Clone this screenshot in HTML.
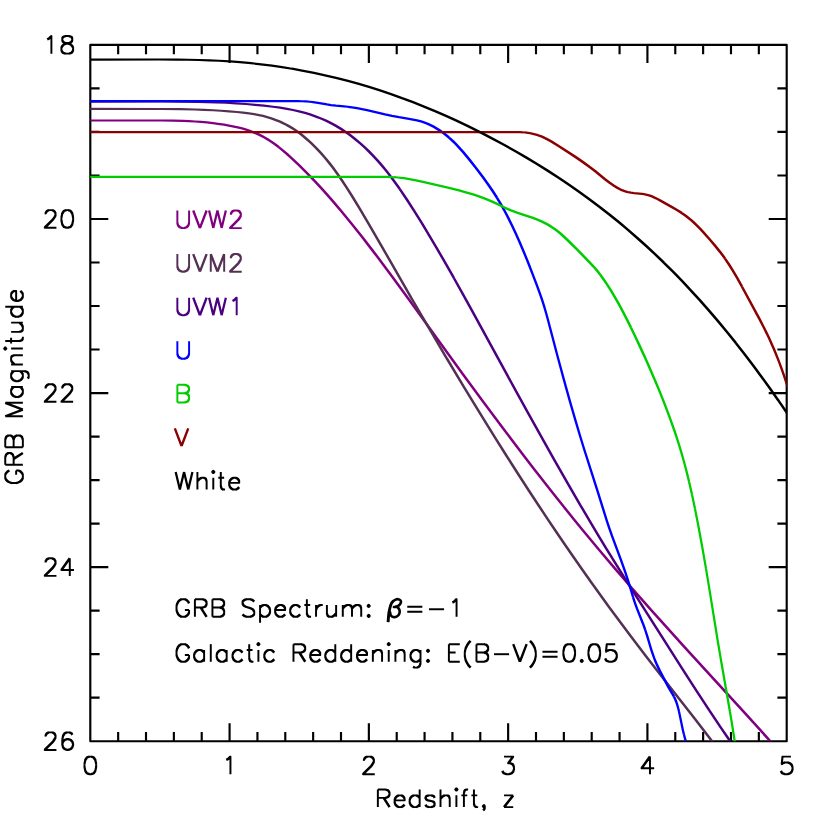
<!DOCTYPE html>
<html><head><meta charset="utf-8"><title>GRB Magnitude vs Redshift</title>
<style>html,body{margin:0;padding:0;background:#fff;font-family:"Liberation Sans",sans-serif;}svg{display:block}</style>
</head><body>
<svg width="830" height="830" viewBox="0 0 830 830">
<rect x="0" y="0" width="830" height="830" fill="#ffffff"/>
<defs><clipPath id="pc"><rect x="90.3" y="44.9" width="696.40" height="696.30"/></clipPath>
<path id="g40" d="M8.31 -21.85L6.64 -20.18L8.45 -18.37L10.12 -20.05ZM6.50 -19.97L4.82 -17.46L6.91 -16.06L8.59 -18.58ZM4.77 -17.31L3.09 -13.96L5.29 -12.86L6.96 -16.21ZM3.11 -13.62L2.27 -9.43L4.43 -9.00L5.27 -13.19ZM2.38 -9.22L2.38 -5.87L4.33 -5.87L4.33 -9.22ZM2.27 -5.65L3.11 -1.46L5.27 -1.89L4.43 -6.08ZM3.09 -1.13L4.77 2.22L6.96 1.13L5.29 -2.22ZM4.82 2.37L6.50 4.89L8.59 3.49L6.91 0.98ZM6.64 5.09L8.31 6.77L10.12 4.96L8.45 3.29ZM8.80 -19.27L8.63 -19.90L8.17 -20.36L7.54 -20.53L6.91 -20.36L6.45 -19.90L6.28 -19.27L6.45 -18.65L6.91 -18.18L7.54 -18.02L8.17 -18.18L8.63 -18.65ZM7.09 -16.76L6.93 -17.37L6.48 -17.82L5.87 -17.98L5.25 -17.82L4.81 -17.37L4.64 -16.76L4.81 -16.15L5.25 -15.70L5.87 -15.54L6.48 -15.70L6.93 -16.15ZM5.29 -13.41L5.15 -13.96L4.74 -14.36L4.19 -14.51L3.64 -14.36L3.23 -13.96L3.09 -13.41L3.23 -12.86L3.64 -12.45L4.19 -12.30L4.74 -12.45L5.15 -12.86ZM4.33 -9.22L4.20 -9.71L3.84 -10.06L3.35 -10.19L2.86 -10.06L2.51 -9.71L2.38 -9.22L2.51 -8.73L2.86 -8.37L3.35 -8.24L3.84 -8.37L4.20 -8.73ZM4.33 -5.87L4.20 -6.35L3.84 -6.71L3.35 -6.84L2.86 -6.71L2.51 -6.35L2.38 -5.87L2.51 -5.38L2.86 -5.02L3.35 -4.89L3.84 -5.02L4.20 -5.38ZM5.29 -1.68L5.15 -2.23L4.74 -2.63L4.19 -2.78L3.64 -2.63L3.23 -2.23L3.09 -1.68L3.23 -1.12L3.64 -0.72L4.19 -0.57L4.74 -0.72L5.15 -1.12ZM7.09 1.68L6.93 1.06L6.48 0.62L5.87 0.45L5.25 0.62L4.81 1.06L4.64 1.68L4.81 2.29L5.25 2.74L5.87 2.90L6.48 2.74L6.93 2.29ZM8.80 4.19L8.63 3.56L8.17 3.10L7.54 2.93L6.91 3.10L6.45 3.56L6.28 4.19L6.45 4.82L6.91 5.28L7.54 5.45L8.17 5.28L8.63 4.82Z"/>
<path id="g41" d="M1.61 -20.05L3.29 -18.37L5.09 -20.18L3.42 -21.85ZM3.14 -18.58L4.82 -16.06L6.91 -17.46L5.24 -19.97ZM4.77 -16.21L6.45 -12.86L8.64 -13.96L6.96 -17.31ZM6.46 -13.19L7.30 -9.00L9.46 -9.43L8.62 -13.62ZM7.40 -9.22L7.40 -5.87L9.35 -5.87L9.35 -9.22ZM7.30 -6.08L6.46 -1.89L8.62 -1.46L9.46 -5.65ZM6.45 -2.22L4.77 1.13L6.96 2.22L8.64 -1.13ZM4.82 0.98L3.14 3.49L5.24 4.89L6.91 2.37ZM3.29 3.29L1.61 4.96L3.42 6.77L5.09 5.09ZM5.45 -19.27L5.28 -19.90L4.82 -20.36L4.19 -20.53L3.56 -20.36L3.10 -19.90L2.93 -19.27L3.10 -18.65L3.56 -18.18L4.19 -18.02L4.82 -18.18L5.28 -18.65ZM7.09 -16.76L6.93 -17.37L6.48 -17.82L5.87 -17.98L5.25 -17.82L4.81 -17.37L4.64 -16.76L4.81 -16.15L5.25 -15.70L5.87 -15.54L6.48 -15.70L6.93 -16.15ZM8.65 -13.41L8.50 -13.96L8.09 -14.36L7.54 -14.51L6.99 -14.36L6.59 -13.96L6.44 -13.41L6.59 -12.86L6.99 -12.45L7.54 -12.30L8.09 -12.45L8.50 -12.86ZM9.35 -9.22L9.22 -9.71L8.87 -10.06L8.38 -10.19L7.89 -10.06L7.54 -9.71L7.40 -9.22L7.54 -8.73L7.89 -8.37L8.38 -8.24L8.87 -8.37L9.22 -8.73ZM9.35 -5.87L9.22 -6.35L8.87 -6.71L8.38 -6.84L7.89 -6.71L7.54 -6.35L7.40 -5.87L7.54 -5.38L7.89 -5.02L8.38 -4.89L8.87 -5.02L9.22 -5.38ZM8.65 -1.68L8.50 -2.23L8.09 -2.63L7.54 -2.78L6.99 -2.63L6.59 -2.23L6.44 -1.68L6.59 -1.12L6.99 -0.72L7.54 -0.57L8.09 -0.72L8.50 -1.12ZM7.09 1.68L6.93 1.06L6.48 0.62L5.87 0.45L5.25 0.62L4.81 1.06L4.64 1.68L4.81 2.29L5.25 2.74L5.87 2.90L6.48 2.74L6.93 2.29ZM5.45 4.19L5.28 3.56L4.82 3.10L4.19 2.93L3.56 3.10L3.10 3.56L2.93 4.19L3.10 4.82L3.56 5.28L4.19 5.45L4.82 5.28L5.28 4.82Z"/>
<path id="g44" d="M4.12 -1.74L3.29 -0.90L5.09 0.90L5.93 0.07ZM5.09 -0.90L4.26 -1.74L2.45 0.07L3.29 0.90ZM4.26 0.07L5.09 -0.77L3.29 -2.58L2.45 -1.74ZM3.29 -0.77L4.12 0.07L5.93 -1.74L5.09 -2.58ZM4.05 -0.84L4.05 0.84L6.00 0.84L6.00 -0.84ZM3.93 0.29L3.09 1.97L5.29 3.06L6.12 1.39ZM3.29 1.61L2.45 2.45L4.26 4.26L5.09 3.42ZM5.47 0.00L5.30 -0.64L4.83 -1.11L4.19 -1.28L3.55 -1.11L3.08 -0.64L2.91 -0.00L3.08 0.64L3.55 1.11L4.19 1.28L4.83 1.11L5.30 0.64ZM4.63 -0.84L4.46 -1.48L3.99 -1.94L3.35 -2.12L2.71 -1.94L2.25 -1.48L2.07 -0.84L2.25 -0.20L2.71 0.27L3.35 0.44L3.99 0.27L4.46 -0.20ZM5.47 -1.68L5.30 -2.31L4.83 -2.78L4.19 -2.95L3.55 -2.78L3.08 -2.31L2.91 -1.68L3.08 -1.04L3.55 -0.57L4.19 -0.40L4.83 -0.57L5.30 -1.04ZM6.00 -0.84L5.87 -1.33L5.52 -1.68L5.03 -1.81L4.54 -1.68L4.18 -1.33L4.05 -0.84L4.18 -0.35L4.54 0.01L5.03 0.14L5.52 0.01L5.87 -0.35ZM6.00 0.84L5.87 0.35L5.52 -0.01L5.03 -0.14L4.54 -0.01L4.18 0.35L4.05 0.84L4.18 1.33L4.54 1.68L5.03 1.81L5.52 1.68L5.87 1.33ZM5.41 2.51L5.25 1.90L4.80 1.45L4.19 1.29L3.58 1.45L3.13 1.90L2.97 2.51L3.13 3.13L3.58 3.57L4.19 3.74L4.80 3.57L5.25 3.13Z"/>
<path id="g45" d="M3.35 -6.57L18.44 -6.57L18.44 -8.52L3.35 -8.52Z"/>
<path id="g46" d="M3.29 -2.58L2.45 -1.74L4.26 0.07L5.09 -0.77ZM2.45 0.07L3.29 0.90L5.09 -0.90L4.26 -1.74ZM5.09 0.90L5.93 0.07L4.12 -1.74L3.29 -0.90ZM5.93 -1.74L5.09 -2.58L3.29 -0.77L4.12 0.07ZM4.63 -0.84L4.46 -1.48L3.99 -1.94L3.35 -2.12L2.71 -1.94L2.25 -1.48L2.07 -0.84L2.25 -0.20L2.71 0.27L3.35 0.44L3.99 0.27L4.46 -0.20ZM5.47 0.00L5.30 -0.64L4.83 -1.11L4.19 -1.28L3.55 -1.11L3.08 -0.64L2.91 -0.00L3.08 0.64L3.55 1.11L4.19 1.28L4.83 1.11L5.30 0.64ZM6.31 -0.84L6.13 -1.48L5.67 -1.94L5.03 -2.12L4.39 -1.94L3.92 -1.48L3.75 -0.84L3.92 -0.20L4.39 0.27L5.03 0.44L5.67 0.27L6.13 -0.20ZM5.47 -1.68L5.30 -2.31L4.83 -2.78L4.19 -2.95L3.55 -2.78L3.08 -2.31L2.91 -1.68L3.08 -1.04L3.55 -0.57L4.19 -0.40L4.83 -0.57L5.30 -1.04Z"/>
<path id="g48" d="M7.17 -18.71L4.66 -17.87L5.40 -15.65L7.91 -16.49ZM3.98 -17.46L2.31 -14.94L4.40 -13.55L6.07 -16.06ZM2.27 -14.46L1.43 -10.27L3.60 -9.84L4.43 -14.03ZM1.54 -10.06L1.54 -7.54L3.49 -7.54L3.49 -10.06ZM1.43 -7.33L2.27 -3.14L4.43 -3.57L3.60 -7.76ZM2.31 -2.65L3.98 -0.14L6.07 -1.54L4.40 -4.05ZM4.66 0.27L7.17 1.11L7.91 -1.11L5.40 -1.95ZM7.54 0.97L9.22 0.97L9.22 -0.97L7.54 -0.97ZM9.59 1.11L12.10 0.27L11.36 -1.95L8.85 -1.11ZM12.78 -0.14L14.45 -2.65L12.36 -4.05L10.69 -1.54ZM14.49 -3.14L15.33 -7.33L13.16 -7.76L12.33 -3.57ZM15.22 -7.54L15.22 -10.06L13.27 -10.06L13.27 -7.54ZM15.33 -10.27L14.49 -14.46L12.33 -14.03L13.16 -9.84ZM14.45 -14.94L12.78 -17.46L10.69 -16.06L12.36 -13.55ZM12.10 -17.87L9.59 -18.71L8.85 -16.49L11.36 -15.65ZM9.22 -18.57L7.54 -18.57L7.54 -16.62L9.22 -16.62ZM6.20 -16.76L6.04 -17.34L5.61 -17.77L5.03 -17.93L4.44 -17.77L4.02 -17.34L3.86 -16.76L4.02 -16.18L4.44 -15.75L5.03 -15.59L5.61 -15.75L6.04 -16.18ZM4.46 -14.25L4.31 -14.80L3.90 -15.20L3.35 -15.35L2.80 -15.20L2.40 -14.80L2.25 -14.25L2.40 -13.69L2.80 -13.29L3.35 -13.14L3.90 -13.29L4.31 -13.69ZM3.49 -10.06L3.36 -10.54L3.00 -10.90L2.51 -11.03L2.03 -10.90L1.67 -10.54L1.54 -10.06L1.67 -9.57L2.03 -9.21L2.51 -9.08L3.00 -9.21L3.36 -9.57ZM3.49 -7.54L3.36 -8.03L3.00 -8.39L2.51 -8.52L2.03 -8.39L1.67 -8.03L1.54 -7.54L1.67 -7.05L2.03 -6.70L2.51 -6.57L3.00 -6.70L3.36 -7.05ZM4.46 -3.35L4.31 -3.90L3.90 -4.31L3.35 -4.46L2.80 -4.31L2.40 -3.90L2.25 -3.35L2.40 -2.80L2.80 -2.40L3.35 -2.25L3.90 -2.40L4.31 -2.80ZM6.20 -0.84L6.04 -1.42L5.61 -1.85L5.03 -2.01L4.44 -1.85L4.02 -1.42L3.86 -0.84L4.02 -0.25L4.44 0.17L5.03 0.33L5.61 0.17L6.04 -0.25ZM8.52 0.00L8.39 -0.49L8.03 -0.84L7.54 -0.97L7.05 -0.84L6.70 -0.49L6.57 -0.00L6.70 0.49L7.05 0.84L7.54 0.97L8.03 0.84L8.39 0.49ZM10.19 0.00L10.06 -0.49L9.71 -0.84L9.22 -0.97L8.73 -0.84L8.37 -0.49L8.24 -0.00L8.37 0.49L8.73 0.84L9.22 0.97L9.71 0.84L10.06 0.49ZM12.90 -0.84L12.74 -1.42L12.32 -1.85L11.73 -2.01L11.15 -1.85L10.72 -1.42L10.56 -0.84L10.72 -0.25L11.15 0.17L11.73 0.33L12.32 0.17L12.74 -0.25ZM14.51 -3.35L14.36 -3.90L13.96 -4.31L13.41 -4.46L12.86 -4.31L12.45 -3.90L12.30 -3.35L12.45 -2.80L12.86 -2.40L13.41 -2.25L13.96 -2.40L14.36 -2.80ZM15.22 -7.54L15.09 -8.03L14.73 -8.39L14.25 -8.52L13.76 -8.39L13.40 -8.03L13.27 -7.54L13.40 -7.05L13.76 -6.70L14.25 -6.57L14.73 -6.70L15.09 -7.05ZM15.22 -10.06L15.09 -10.54L14.73 -10.90L14.25 -11.03L13.76 -10.90L13.40 -10.54L13.27 -10.06L13.40 -9.57L13.76 -9.21L14.25 -9.08L14.73 -9.21L15.09 -9.57ZM14.51 -14.25L14.36 -14.80L13.96 -15.20L13.41 -15.35L12.86 -15.20L12.45 -14.80L12.30 -14.25L12.45 -13.69L12.86 -13.29L13.41 -13.14L13.96 -13.29L14.36 -13.69ZM12.90 -16.76L12.74 -17.34L12.32 -17.77L11.73 -17.93L11.15 -17.77L10.72 -17.34L10.56 -16.76L10.72 -16.18L11.15 -15.75L11.73 -15.59L12.32 -15.75L12.74 -16.18ZM10.19 -17.60L10.06 -18.09L9.71 -18.44L9.22 -18.57L8.73 -18.44L8.37 -18.09L8.24 -17.60L8.37 -17.11L8.73 -16.75L9.22 -16.62L9.71 -16.75L10.06 -17.11ZM8.52 -17.60L8.39 -18.09L8.03 -18.44L7.54 -18.57L7.05 -18.44L6.70 -18.09L6.57 -17.60L6.70 -17.11L7.05 -16.75L7.54 -16.62L8.03 -16.75L8.39 -17.11Z"/>
<path id="g49" d="M5.58 -13.15L7.25 -13.99L6.16 -16.18L4.48 -15.34ZM7.61 -14.18L10.12 -16.69L8.31 -18.50L5.80 -15.99ZM8.24 -17.60L8.24 0.00L10.19 0.00L10.19 -17.60ZM7.93 -15.08L7.76 -15.70L7.32 -16.14L6.70 -16.31L6.09 -16.14L5.64 -15.70L5.48 -15.08L5.64 -14.47L6.09 -14.02L6.70 -13.86L7.32 -14.02L7.76 -14.47ZM10.19 -17.60L10.06 -18.09L9.71 -18.44L9.22 -18.57L8.73 -18.44L8.37 -18.09L8.24 -17.60L8.37 -17.11L8.73 -16.75L9.22 -16.62L9.71 -16.75L10.06 -17.11Z"/>
<path id="g50" d="M4.33 -13.41L4.33 -14.25L2.38 -14.25L2.38 -13.41ZM4.45 -13.70L5.29 -15.37L3.09 -16.47L2.26 -14.79ZM5.09 -15.02L5.93 -15.86L4.12 -17.66L3.29 -16.83ZM5.58 -15.66L7.25 -16.50L6.16 -18.69L4.48 -17.86ZM6.70 -16.62L10.06 -16.62L10.06 -18.57L6.70 -18.57ZM9.51 -16.50L11.18 -15.66L12.28 -17.86L10.60 -18.69ZM10.83 -15.86L11.67 -15.02L13.47 -16.83L12.64 -17.66ZM11.47 -15.37L12.31 -13.70L14.50 -14.79L13.67 -16.47ZM12.43 -14.25L12.43 -12.57L14.38 -12.57L14.38 -14.25ZM12.31 -13.12L11.47 -11.44L13.67 -10.35L14.50 -12.02ZM11.52 -11.59L9.85 -9.08L11.94 -7.68L13.62 -10.20ZM9.99 -9.28L1.61 -0.90L3.42 0.90L11.80 -7.48ZM2.51 0.97L14.25 0.97L14.25 -0.97L2.51 -0.97ZM4.33 -14.25L4.20 -14.73L3.84 -15.09L3.35 -15.22L2.86 -15.09L2.51 -14.73L2.38 -14.25L2.51 -13.76L2.86 -13.40L3.35 -13.27L3.84 -13.40L4.20 -13.76ZM5.41 -15.92L5.25 -16.53L4.80 -16.98L4.19 -17.15L3.58 -16.98L3.13 -16.53L2.97 -15.92L3.13 -15.31L3.58 -14.86L4.19 -14.70L4.80 -14.86L5.25 -15.31ZM6.25 -16.76L6.09 -17.37L5.64 -17.82L5.03 -17.98L4.42 -17.82L3.97 -17.37L3.80 -16.76L3.97 -16.15L4.42 -15.70L5.03 -15.54L5.64 -15.70L6.09 -16.15ZM7.68 -17.60L7.55 -18.09L7.19 -18.44L6.70 -18.57L6.22 -18.44L5.86 -18.09L5.73 -17.60L5.86 -17.11L6.22 -16.75L6.70 -16.62L7.19 -16.75L7.55 -17.11ZM11.03 -17.60L10.90 -18.09L10.54 -18.44L10.06 -18.57L9.57 -18.44L9.21 -18.09L9.08 -17.60L9.21 -17.11L9.57 -16.75L10.06 -16.62L10.54 -16.75L10.90 -17.11ZM12.96 -16.76L12.79 -17.37L12.34 -17.82L11.73 -17.98L11.12 -17.82L10.67 -17.37L10.51 -16.76L10.67 -16.15L11.12 -15.70L11.73 -15.54L12.34 -15.70L12.79 -16.15ZM13.79 -15.92L13.63 -16.53L13.18 -16.98L12.57 -17.15L11.96 -16.98L11.51 -16.53L11.35 -15.92L11.51 -15.31L11.96 -14.86L12.57 -14.70L13.18 -14.86L13.63 -15.31ZM14.38 -14.25L14.25 -14.73L13.90 -15.09L13.41 -15.22L12.92 -15.09L12.56 -14.73L12.43 -14.25L12.56 -13.76L12.92 -13.40L13.41 -13.27L13.90 -13.40L14.25 -13.76ZM14.38 -12.57L14.25 -13.06L13.90 -13.41L13.41 -13.54L12.92 -13.41L12.56 -13.06L12.43 -12.57L12.56 -12.08L12.92 -11.73L13.41 -11.60L13.90 -11.73L14.25 -12.08ZM13.79 -10.89L13.63 -11.51L13.18 -11.95L12.57 -12.12L11.96 -11.95L11.51 -11.51L11.35 -10.89L11.51 -10.28L11.96 -9.83L12.57 -9.67L13.18 -9.83L13.63 -10.28ZM12.15 -8.38L11.98 -9.01L11.52 -9.47L10.89 -9.64L10.27 -9.47L9.80 -9.01L9.64 -8.38L9.80 -7.75L10.27 -7.29L10.89 -7.12L11.52 -7.29L11.98 -7.75ZM3.49 0.00L3.36 -0.49L3.00 -0.84L2.51 -0.97L2.03 -0.84L1.67 -0.49L1.54 -0.00L1.67 0.49L2.03 0.84L2.51 0.97L3.00 0.84L3.36 0.49Z"/>
<path id="g51" d="M4.19 -16.62L13.41 -16.62L13.41 -18.57L4.19 -18.57ZM12.39 -18.36L7.37 -11.65L9.39 -10.13L14.42 -16.84ZM8.38 -9.92L10.89 -9.92L10.89 -11.87L8.38 -11.87ZM10.35 -9.80L12.02 -8.96L13.12 -11.15L11.44 -11.99ZM11.67 -9.15L12.50 -8.31L14.31 -10.12L13.47 -10.96ZM12.30 -8.85L13.14 -6.33L15.35 -7.07L14.52 -9.59ZM13.27 -6.70L13.27 -5.03L15.22 -5.03L15.22 -6.70ZM13.14 -5.40L12.30 -2.88L14.52 -2.14L15.35 -4.66ZM12.50 -3.42L10.83 -1.74L12.64 0.07L14.31 -1.61ZM11.36 -1.95L8.85 -1.11L9.59 1.11L12.10 0.27ZM9.22 -0.97L6.70 -0.97L6.70 0.97L9.22 0.97ZM7.07 -1.11L4.56 -1.95L3.82 0.27L6.33 1.11ZM5.09 -1.74L4.26 -2.58L2.45 -0.77L3.29 0.07ZM4.45 -2.22L3.61 -3.90L1.42 -2.80L2.26 -1.13ZM14.38 -17.60L14.25 -18.09L13.90 -18.44L13.41 -18.57L12.92 -18.44L12.56 -18.09L12.43 -17.60L12.56 -17.11L12.92 -16.75L13.41 -16.62L13.90 -16.75L14.25 -17.11ZM9.35 -10.89L9.22 -11.38L8.87 -11.74L8.38 -11.87L7.89 -11.74L7.54 -11.38L7.40 -10.89L7.54 -10.41L7.89 -10.05L8.38 -9.92L8.87 -10.05L9.22 -10.41ZM11.87 -10.89L11.74 -11.38L11.38 -11.74L10.89 -11.87L10.41 -11.74L10.05 -11.38L9.92 -10.89L10.05 -10.41L10.41 -10.05L10.89 -9.92L11.38 -10.05L11.74 -10.41ZM13.79 -10.06L13.63 -10.67L13.18 -11.12L12.57 -11.28L11.96 -11.12L11.51 -10.67L11.35 -10.06L11.51 -9.44L11.96 -9.00L12.57 -8.83L13.18 -9.00L13.63 -9.44ZM14.58 -9.22L14.42 -9.80L13.99 -10.23L13.41 -10.39L12.82 -10.23L12.40 -9.80L12.24 -9.22L12.40 -8.63L12.82 -8.21L13.41 -8.05L13.99 -8.21L14.42 -8.63ZM15.22 -6.70L15.09 -7.19L14.73 -7.55L14.25 -7.68L13.76 -7.55L13.40 -7.19L13.27 -6.70L13.40 -6.22L13.76 -5.86L14.25 -5.73L14.73 -5.86L15.09 -6.22ZM15.22 -5.03L15.09 -5.52L14.73 -5.87L14.25 -6.00L13.76 -5.87L13.40 -5.52L13.27 -5.03L13.40 -4.54L13.76 -4.18L14.25 -4.05L14.73 -4.18L15.09 -4.54ZM14.58 -2.51L14.42 -3.10L13.99 -3.53L13.41 -3.68L12.82 -3.53L12.40 -3.10L12.24 -2.51L12.40 -1.93L12.82 -1.50L13.41 -1.35L13.99 -1.50L14.42 -1.93ZM12.90 -0.84L12.74 -1.42L12.32 -1.85L11.73 -2.01L11.15 -1.85L10.72 -1.42L10.56 -0.84L10.72 -0.25L11.15 0.17L11.73 0.33L12.32 0.17L12.74 -0.25ZM10.19 0.00L10.06 -0.49L9.71 -0.84L9.22 -0.97L8.73 -0.84L8.37 -0.49L8.24 -0.00L8.37 0.49L8.73 0.84L9.22 0.97L9.71 0.84L10.06 0.49ZM7.68 0.00L7.55 -0.49L7.19 -0.84L6.70 -0.97L6.22 -0.84L5.86 -0.49L5.73 -0.00L5.86 0.49L6.22 0.84L6.70 0.97L7.19 0.84L7.55 0.49ZM5.36 -0.84L5.20 -1.42L4.77 -1.85L4.19 -2.01L3.61 -1.85L3.18 -1.42L3.02 -0.84L3.18 -0.25L3.61 0.17L4.19 0.33L4.77 0.17L5.20 -0.25ZM4.58 -1.68L4.41 -2.29L3.96 -2.74L3.35 -2.90L2.74 -2.74L2.29 -2.29L2.13 -1.68L2.29 -1.06L2.74 -0.62L3.35 -0.45L3.96 -0.62L4.41 -1.06Z"/>
<path id="g52" d="M9.87 -18.33L1.49 -6.60L3.54 -5.13L11.92 -16.86ZM2.51 -4.89L15.08 -4.89L15.08 -6.84L2.51 -6.84ZM3.49 -5.87L3.36 -6.35L3.00 -6.71L2.51 -6.84L2.03 -6.71L1.67 -6.35L1.54 -5.87L1.67 -5.38L2.03 -5.02L2.51 -4.89L3.00 -5.02L3.36 -5.38ZM9.92 -17.60L9.92 0.00L11.87 0.00L11.87 -17.60Z"/>
<path id="g53" d="M12.57 -18.57L4.19 -18.57L4.19 -16.62L12.57 -16.62ZM3.15 -17.71L2.31 -10.17L4.40 -9.94L5.23 -17.48ZM4.26 -9.15L5.09 -9.99L3.29 -11.80L2.45 -10.96ZM4.56 -9.79L7.07 -10.62L6.33 -12.84L3.82 -12.00ZM6.70 -10.76L9.22 -10.76L9.22 -12.71L6.70 -12.71ZM8.85 -10.62L11.36 -9.79L12.10 -12.00L9.59 -12.84ZM10.83 -9.99L12.50 -8.31L14.31 -10.12L12.64 -11.80ZM12.30 -8.85L13.14 -6.33L15.35 -7.07L14.52 -9.59ZM13.27 -6.70L13.27 -5.03L15.22 -5.03L15.22 -6.70ZM13.14 -5.40L12.30 -2.88L14.52 -2.14L15.35 -4.66ZM12.50 -3.42L10.83 -1.74L12.64 0.07L14.31 -1.61ZM11.36 -1.95L8.85 -1.11L9.59 1.11L12.10 0.27ZM9.22 -0.97L6.70 -0.97L6.70 0.97L9.22 0.97ZM7.07 -1.11L4.56 -1.95L3.82 0.27L6.33 1.11ZM5.09 -1.74L4.26 -2.58L2.45 -0.77L3.29 0.07ZM4.45 -2.22L3.61 -3.90L1.42 -2.80L2.26 -1.13ZM5.16 -17.60L5.03 -18.09L4.68 -18.44L4.19 -18.57L3.70 -18.44L3.35 -18.09L3.21 -17.60L3.35 -17.11L3.70 -16.75L4.19 -16.62L4.68 -16.75L5.03 -17.11ZM4.40 -10.06L4.26 -10.58L3.88 -10.97L3.35 -11.11L2.83 -10.97L2.44 -10.58L2.30 -10.06L2.44 -9.53L2.83 -9.15L3.35 -9.00L3.88 -9.15L4.26 -9.53ZM5.36 -10.89L5.20 -11.48L4.77 -11.91L4.19 -12.06L3.61 -11.91L3.18 -11.48L3.02 -10.89L3.18 -10.31L3.61 -9.88L4.19 -9.73L4.77 -9.88L5.20 -10.31ZM7.68 -11.73L7.55 -12.22L7.19 -12.58L6.70 -12.71L6.22 -12.58L5.86 -12.22L5.73 -11.73L5.86 -11.24L6.22 -10.89L6.70 -10.76L7.19 -10.89L7.55 -11.24ZM10.19 -11.73L10.06 -12.22L9.71 -12.58L9.22 -12.71L8.73 -12.58L8.37 -12.22L8.24 -11.73L8.37 -11.24L8.73 -10.89L9.22 -10.76L9.71 -10.89L10.06 -11.24ZM12.90 -10.89L12.74 -11.48L12.32 -11.91L11.73 -12.06L11.15 -11.91L10.72 -11.48L10.56 -10.89L10.72 -10.31L11.15 -9.88L11.73 -9.73L12.32 -9.88L12.74 -10.31ZM14.58 -9.22L14.42 -9.80L13.99 -10.23L13.41 -10.39L12.82 -10.23L12.40 -9.80L12.24 -9.22L12.40 -8.63L12.82 -8.21L13.41 -8.05L13.99 -8.21L14.42 -8.63ZM15.22 -6.70L15.09 -7.19L14.73 -7.55L14.25 -7.68L13.76 -7.55L13.40 -7.19L13.27 -6.70L13.40 -6.22L13.76 -5.86L14.25 -5.73L14.73 -5.86L15.09 -6.22ZM15.22 -5.03L15.09 -5.52L14.73 -5.87L14.25 -6.00L13.76 -5.87L13.40 -5.52L13.27 -5.03L13.40 -4.54L13.76 -4.18L14.25 -4.05L14.73 -4.18L15.09 -4.54ZM14.58 -2.51L14.42 -3.10L13.99 -3.53L13.41 -3.68L12.82 -3.53L12.40 -3.10L12.24 -2.51L12.40 -1.93L12.82 -1.50L13.41 -1.35L13.99 -1.50L14.42 -1.93ZM12.90 -0.84L12.74 -1.42L12.32 -1.85L11.73 -2.01L11.15 -1.85L10.72 -1.42L10.56 -0.84L10.72 -0.25L11.15 0.17L11.73 0.33L12.32 0.17L12.74 -0.25ZM10.19 0.00L10.06 -0.49L9.71 -0.84L9.22 -0.97L8.73 -0.84L8.37 -0.49L8.24 -0.00L8.37 0.49L8.73 0.84L9.22 0.97L9.71 0.84L10.06 0.49ZM7.68 0.00L7.55 -0.49L7.19 -0.84L6.70 -0.97L6.22 -0.84L5.86 -0.49L5.73 -0.00L5.86 0.49L6.22 0.84L6.70 0.97L7.19 0.84L7.55 0.49ZM5.36 -0.84L5.20 -1.42L4.77 -1.85L4.19 -2.01L3.61 -1.85L3.18 -1.42L3.02 -0.84L3.18 -0.25L3.61 0.17L4.19 0.33L4.77 0.17L5.20 -0.25ZM4.58 -1.68L4.41 -2.29L3.96 -2.74L3.35 -2.90L2.74 -2.74L2.29 -2.29L2.13 -1.68L2.29 -1.06L2.74 -0.62L3.35 -0.45L3.96 -0.62L4.41 -1.06Z"/>
<path id="g54" d="M14.50 -15.63L13.67 -17.31L11.47 -16.21L12.31 -14.54ZM12.94 -17.87L10.43 -18.71L9.69 -16.49L12.20 -15.65ZM10.06 -18.57L8.38 -18.57L8.38 -16.62L10.06 -16.62ZM8.01 -18.71L5.50 -17.87L6.24 -15.65L8.75 -16.49ZM4.82 -17.46L3.14 -14.94L5.24 -13.55L6.91 -16.06ZM3.11 -14.46L2.27 -10.27L4.43 -9.84L5.27 -14.03ZM2.38 -10.06L2.38 -5.87L4.33 -5.87L4.33 -10.06ZM2.26 -5.59L3.09 -2.24L5.29 -2.79L4.45 -6.14ZM3.29 -1.61L4.96 0.07L6.77 -1.74L5.09 -3.42ZM5.50 0.27L8.01 1.11L8.75 -1.11L6.24 -1.95ZM8.38 0.97L9.22 0.97L9.22 -0.97L8.38 -0.97ZM9.59 1.11L12.10 0.27L11.36 -1.95L8.85 -1.11ZM12.64 0.07L14.31 -1.61L12.50 -3.42L10.83 -1.74ZM14.52 -2.14L15.35 -4.66L13.14 -5.40L12.30 -2.88ZM15.22 -5.03L15.22 -5.87L13.27 -5.87L13.27 -5.03ZM15.35 -6.24L14.52 -8.75L12.30 -8.01L13.14 -5.50ZM14.31 -9.28L12.64 -10.96L10.83 -9.15L12.50 -7.48ZM12.10 -11.16L9.59 -12.00L8.85 -9.79L11.36 -8.95ZM9.22 -11.87L8.38 -11.87L8.38 -9.92L9.22 -9.92ZM8.01 -12.00L5.50 -11.16L6.24 -8.95L8.75 -9.79ZM4.96 -10.96L3.29 -9.28L5.09 -7.48L6.77 -9.15ZM3.08 -8.75L2.24 -6.24L4.46 -5.50L5.30 -8.01ZM13.74 -16.76L13.58 -17.34L13.15 -17.77L12.57 -17.93L11.99 -17.77L11.56 -17.34L11.40 -16.76L11.56 -16.18L11.99 -15.75L12.57 -15.59L13.15 -15.75L13.58 -16.18ZM11.03 -17.60L10.90 -18.09L10.54 -18.44L10.06 -18.57L9.57 -18.44L9.21 -18.09L9.08 -17.60L9.21 -17.11L9.57 -16.75L10.06 -16.62L10.54 -16.75L10.90 -17.11ZM9.35 -17.60L9.22 -18.09L8.87 -18.44L8.38 -18.57L7.89 -18.44L7.54 -18.09L7.40 -17.60L7.54 -17.11L7.89 -16.75L8.38 -16.62L8.87 -16.75L9.22 -17.11ZM7.03 -16.76L6.88 -17.34L6.45 -17.77L5.87 -17.93L5.28 -17.77L4.85 -17.34L4.70 -16.76L4.85 -16.18L5.28 -15.75L5.87 -15.59L6.45 -15.75L6.88 -16.18ZM5.29 -14.25L5.15 -14.80L4.74 -15.20L4.19 -15.35L3.64 -15.20L3.23 -14.80L3.09 -14.25L3.23 -13.69L3.64 -13.29L4.19 -13.14L4.74 -13.29L5.15 -13.69ZM4.33 -10.06L4.20 -10.54L3.84 -10.90L3.35 -11.03L2.86 -10.90L2.51 -10.54L2.38 -10.06L2.51 -9.57L2.86 -9.21L3.35 -9.08L3.84 -9.21L4.20 -9.57ZM4.33 -5.87L4.20 -6.35L3.84 -6.71L3.35 -6.84L2.86 -6.71L2.51 -6.35L2.38 -5.87L2.51 -5.38L2.86 -5.02L3.35 -4.89L3.84 -5.02L4.20 -5.38ZM5.32 -2.51L5.17 -3.08L4.76 -3.49L4.19 -3.64L3.62 -3.49L3.21 -3.08L3.06 -2.51L3.21 -1.95L3.62 -1.53L4.19 -1.38L4.76 -1.53L5.17 -1.95ZM7.03 -0.84L6.88 -1.42L6.45 -1.85L5.87 -2.01L5.28 -1.85L4.85 -1.42L4.70 -0.84L4.85 -0.25L5.28 0.17L5.87 0.33L6.45 0.17L6.88 -0.25ZM9.35 0.00L9.22 -0.49L8.87 -0.84L8.38 -0.97L7.89 -0.84L7.54 -0.49L7.40 -0.00L7.54 0.49L7.89 0.84L8.38 0.97L8.87 0.84L9.22 0.49ZM10.19 0.00L10.06 -0.49L9.71 -0.84L9.22 -0.97L8.73 -0.84L8.37 -0.49L8.24 -0.00L8.37 0.49L8.73 0.84L9.22 0.97L9.71 0.84L10.06 0.49ZM12.90 -0.84L12.74 -1.42L12.32 -1.85L11.73 -2.01L11.15 -1.85L10.72 -1.42L10.56 -0.84L10.72 -0.25L11.15 0.17L11.73 0.33L12.32 0.17L12.74 -0.25ZM14.58 -2.51L14.42 -3.10L13.99 -3.53L13.41 -3.68L12.82 -3.53L12.40 -3.10L12.24 -2.51L12.40 -1.93L12.82 -1.50L13.41 -1.35L13.99 -1.50L14.42 -1.93ZM15.22 -5.03L15.09 -5.52L14.73 -5.87L14.25 -6.00L13.76 -5.87L13.40 -5.52L13.27 -5.03L13.40 -4.54L13.76 -4.18L14.25 -4.05L14.73 -4.18L15.09 -4.54ZM15.22 -5.87L15.09 -6.35L14.73 -6.71L14.25 -6.84L13.76 -6.71L13.40 -6.35L13.27 -5.87L13.40 -5.38L13.76 -5.02L14.25 -4.89L14.73 -5.02L15.09 -5.38ZM14.58 -8.38L14.42 -8.96L13.99 -9.39L13.41 -9.55L12.82 -9.39L12.40 -8.96L12.24 -8.38L12.40 -7.80L12.82 -7.37L13.41 -7.21L13.99 -7.37L14.42 -7.80ZM12.90 -10.06L12.74 -10.64L12.32 -11.07L11.73 -11.22L11.15 -11.07L10.72 -10.64L10.56 -10.06L10.72 -9.47L11.15 -9.04L11.73 -8.89L12.32 -9.04L12.74 -9.47ZM10.19 -10.89L10.06 -11.38L9.71 -11.74L9.22 -11.87L8.73 -11.74L8.37 -11.38L8.24 -10.89L8.37 -10.41L8.73 -10.05L9.22 -9.92L9.71 -10.05L10.06 -10.41ZM9.35 -10.89L9.22 -11.38L8.87 -11.74L8.38 -11.87L7.89 -11.74L7.54 -11.38L7.40 -10.89L7.54 -10.41L7.89 -10.05L8.38 -9.92L8.87 -10.05L9.22 -10.41ZM7.03 -10.06L6.88 -10.64L6.45 -11.07L5.87 -11.22L5.28 -11.07L4.85 -10.64L4.70 -10.06L4.85 -9.47L5.28 -9.04L5.87 -8.89L6.45 -9.04L6.88 -9.47ZM5.36 -8.38L5.20 -8.96L4.77 -9.39L4.19 -9.55L3.61 -9.39L3.18 -8.96L3.02 -8.38L3.18 -7.80L3.61 -7.37L4.19 -7.21L4.77 -7.37L5.20 -7.80Z"/>
<path id="g56" d="M6.33 -18.71L3.82 -17.87L4.56 -15.65L7.07 -16.49ZM3.09 -17.31L2.26 -15.63L4.45 -14.54L5.29 -16.21ZM2.38 -15.08L2.38 -13.41L4.33 -13.41L4.33 -15.08ZM2.26 -12.86L3.09 -11.18L5.29 -12.28L4.45 -13.96ZM3.64 -10.64L5.32 -9.80L6.41 -11.99L4.74 -12.83ZM5.59 -9.80L8.94 -8.96L9.49 -11.15L6.14 -11.99ZM8.85 -8.95L11.36 -8.11L12.10 -10.33L9.59 -11.16ZM10.83 -8.31L12.50 -6.64L14.31 -8.45L12.64 -10.12ZM12.31 -6.99L13.15 -5.32L15.34 -6.41L14.50 -8.09ZM13.27 -5.87L13.27 -3.35L15.22 -3.35L15.22 -5.87ZM13.15 -3.90L12.31 -2.22L14.50 -1.13L15.34 -2.80ZM12.50 -2.58L11.67 -1.74L13.47 0.07L14.31 -0.77ZM12.20 -1.95L9.69 -1.11L10.43 1.11L12.94 0.27ZM10.06 -0.97L6.70 -0.97L6.70 0.97L10.06 0.97ZM7.07 -1.11L4.56 -1.95L3.82 0.27L6.33 1.11ZM5.09 -1.74L4.26 -2.58L2.45 -0.77L3.29 0.07ZM4.45 -2.22L3.61 -3.90L1.42 -2.80L2.26 -1.13ZM3.49 -3.35L3.49 -5.87L1.54 -5.87L1.54 -3.35ZM3.61 -5.32L4.45 -6.99L2.26 -8.09L1.42 -6.41ZM4.26 -6.64L5.93 -8.31L4.12 -10.12L2.45 -8.45ZM5.40 -8.11L7.91 -8.95L7.17 -11.16L4.66 -10.33ZM7.82 -8.96L11.17 -9.80L10.62 -11.99L7.27 -11.15ZM11.44 -9.80L13.12 -10.64L12.02 -12.83L10.35 -11.99ZM13.67 -11.18L14.50 -12.86L12.31 -13.96L11.47 -12.28ZM14.38 -13.41L14.38 -15.08L12.43 -15.08L12.43 -13.41ZM14.50 -15.63L13.67 -17.31L11.47 -16.21L12.31 -14.54ZM12.94 -17.87L10.43 -18.71L9.69 -16.49L12.20 -15.65ZM10.06 -18.57L6.70 -18.57L6.70 -16.62L10.06 -16.62ZM5.36 -16.76L5.20 -17.34L4.77 -17.77L4.19 -17.93L3.61 -17.77L3.18 -17.34L3.02 -16.76L3.18 -16.18L3.61 -15.75L4.19 -15.59L4.77 -15.75L5.20 -16.18ZM4.33 -15.08L4.20 -15.57L3.84 -15.93L3.35 -16.06L2.86 -15.93L2.51 -15.57L2.38 -15.08L2.51 -14.60L2.86 -14.24L3.35 -14.11L3.84 -14.24L4.20 -14.60ZM4.33 -13.41L4.20 -13.90L3.84 -14.25L3.35 -14.38L2.86 -14.25L2.51 -13.90L2.38 -13.41L2.51 -12.92L2.86 -12.56L3.35 -12.43L3.84 -12.56L4.20 -12.92ZM5.41 -11.73L5.25 -12.34L4.80 -12.79L4.19 -12.96L3.58 -12.79L3.13 -12.34L2.97 -11.73L3.13 -11.12L3.58 -10.67L4.19 -10.51L4.80 -10.67L5.25 -11.12ZM7.00 -10.89L6.85 -11.46L6.43 -11.87L5.87 -12.02L5.30 -11.87L4.89 -11.46L4.74 -10.89L4.89 -10.33L5.30 -9.91L5.87 -9.76L6.43 -9.91L6.85 -10.33ZM10.35 -10.06L10.20 -10.62L9.78 -11.04L9.22 -11.19L8.65 -11.04L8.24 -10.62L8.09 -10.06L8.24 -9.49L8.65 -9.08L9.22 -8.93L9.78 -9.08L10.20 -9.49ZM12.90 -9.22L12.74 -9.80L12.32 -10.23L11.73 -10.39L11.15 -10.23L10.72 -9.80L10.56 -9.22L10.72 -8.63L11.15 -8.21L11.73 -8.05L12.32 -8.21L12.74 -8.63ZM14.63 -7.54L14.47 -8.15L14.02 -8.60L13.41 -8.77L12.80 -8.60L12.35 -8.15L12.18 -7.54L12.35 -6.93L12.80 -6.48L13.41 -6.32L14.02 -6.48L14.47 -6.93ZM15.22 -5.87L15.09 -6.35L14.73 -6.71L14.25 -6.84L13.76 -6.71L13.40 -6.35L13.27 -5.87L13.40 -5.38L13.76 -5.02L14.25 -4.89L14.73 -5.02L15.09 -5.38ZM15.22 -3.35L15.09 -3.84L14.73 -4.20L14.25 -4.33L13.76 -4.20L13.40 -3.84L13.27 -3.35L13.40 -2.86L13.76 -2.51L14.25 -2.38L14.73 -2.51L15.09 -2.86ZM14.63 -1.68L14.47 -2.29L14.02 -2.74L13.41 -2.90L12.80 -2.74L12.35 -2.29L12.18 -1.68L12.35 -1.06L12.80 -0.62L13.41 -0.45L14.02 -0.62L14.47 -1.06ZM13.74 -0.84L13.58 -1.42L13.15 -1.85L12.57 -2.01L11.99 -1.85L11.56 -1.42L11.40 -0.84L11.56 -0.25L11.99 0.17L12.57 0.33L13.15 0.17L13.58 -0.25ZM11.03 0.00L10.90 -0.49L10.54 -0.84L10.06 -0.97L9.57 -0.84L9.21 -0.49L9.08 -0.00L9.21 0.49L9.57 0.84L10.06 0.97L10.54 0.84L10.90 0.49ZM7.68 0.00L7.55 -0.49L7.19 -0.84L6.70 -0.97L6.22 -0.84L5.86 -0.49L5.73 -0.00L5.86 0.49L6.22 0.84L6.70 0.97L7.19 0.84L7.55 0.49ZM5.36 -0.84L5.20 -1.42L4.77 -1.85L4.19 -2.01L3.61 -1.85L3.18 -1.42L3.02 -0.84L3.18 -0.25L3.61 0.17L4.19 0.33L4.77 0.17L5.20 -0.25ZM4.58 -1.68L4.41 -2.29L3.96 -2.74L3.35 -2.90L2.74 -2.74L2.29 -2.29L2.13 -1.68L2.29 -1.06L2.74 -0.62L3.35 -0.45L3.96 -0.62L4.41 -1.06ZM3.49 -3.35L3.36 -3.84L3.00 -4.20L2.51 -4.33L2.03 -4.20L1.67 -3.84L1.54 -3.35L1.67 -2.86L2.03 -2.51L2.51 -2.38L3.00 -2.51L3.36 -2.86ZM3.49 -5.87L3.36 -6.35L3.00 -6.71L2.51 -6.84L2.03 -6.71L1.67 -6.35L1.54 -5.87L1.67 -5.38L2.03 -5.02L2.51 -4.89L3.00 -5.02L3.36 -5.38ZM4.58 -7.54L4.41 -8.15L3.96 -8.60L3.35 -8.77L2.74 -8.60L2.29 -8.15L2.13 -7.54L2.29 -6.93L2.74 -6.48L3.35 -6.32L3.96 -6.48L4.41 -6.93ZM6.20 -9.22L6.04 -9.80L5.61 -10.23L5.03 -10.39L4.44 -10.23L4.02 -9.80L3.86 -9.22L4.02 -8.63L4.44 -8.21L5.03 -8.05L5.61 -8.21L6.04 -8.63ZM8.67 -10.06L8.52 -10.62L8.11 -11.04L7.54 -11.19L6.98 -11.04L6.56 -10.62L6.41 -10.06L6.56 -9.49L6.98 -9.08L7.54 -8.93L8.11 -9.08L8.52 -9.49ZM12.02 -10.89L11.87 -11.46L11.46 -11.87L10.89 -12.02L10.33 -11.87L9.91 -11.46L9.76 -10.89L9.91 -10.33L10.33 -9.91L10.89 -9.76L11.46 -9.91L11.87 -10.33ZM13.79 -11.73L13.63 -12.34L13.18 -12.79L12.57 -12.96L11.96 -12.79L11.51 -12.34L11.35 -11.73L11.51 -11.12L11.96 -10.67L12.57 -10.51L13.18 -10.67L13.63 -11.12ZM14.38 -13.41L14.25 -13.90L13.90 -14.25L13.41 -14.38L12.92 -14.25L12.56 -13.90L12.43 -13.41L12.56 -12.92L12.92 -12.56L13.41 -12.43L13.90 -12.56L14.25 -12.92ZM14.38 -15.08L14.25 -15.57L13.90 -15.93L13.41 -16.06L12.92 -15.93L12.56 -15.57L12.43 -15.08L12.56 -14.60L12.92 -14.24L13.41 -14.11L13.90 -14.24L14.25 -14.60ZM13.74 -16.76L13.58 -17.34L13.15 -17.77L12.57 -17.93L11.99 -17.77L11.56 -17.34L11.40 -16.76L11.56 -16.18L11.99 -15.75L12.57 -15.59L13.15 -15.75L13.58 -16.18ZM11.03 -17.60L10.90 -18.09L10.54 -18.44L10.06 -18.57L9.57 -18.44L9.21 -18.09L9.08 -17.60L9.21 -17.11L9.57 -16.75L10.06 -16.62L10.54 -16.75L10.90 -17.11ZM7.68 -17.60L7.55 -18.09L7.19 -18.44L6.70 -18.57L6.22 -18.44L5.86 -18.09L5.73 -17.60L5.86 -17.11L6.22 -16.75L6.70 -16.62L7.19 -16.75L7.55 -17.11Z"/>
<path id="g58" d="M3.29 -12.64L2.45 -11.80L4.26 -9.99L5.09 -10.83ZM2.45 -9.99L3.29 -9.15L5.09 -10.96L4.26 -11.80ZM5.09 -9.15L5.93 -9.99L4.12 -11.80L3.29 -10.96ZM5.93 -11.80L5.09 -12.64L3.29 -10.83L4.12 -9.99ZM4.63 -10.89L4.46 -11.53L3.99 -12.00L3.35 -12.17L2.71 -12.00L2.25 -11.53L2.07 -10.89L2.25 -10.26L2.71 -9.79L3.35 -9.62L3.99 -9.79L4.46 -10.26ZM5.47 -10.06L5.30 -10.69L4.83 -11.16L4.19 -11.33L3.55 -11.16L3.08 -10.69L2.91 -10.06L3.08 -9.42L3.55 -8.95L4.19 -8.78L4.83 -8.95L5.30 -9.42ZM6.31 -10.89L6.13 -11.53L5.67 -12.00L5.03 -12.17L4.39 -12.00L3.92 -11.53L3.75 -10.89L3.92 -10.26L4.39 -9.79L5.03 -9.62L5.67 -9.79L6.13 -10.26ZM5.47 -11.73L5.30 -12.37L4.83 -12.84L4.19 -13.01L3.55 -12.84L3.08 -12.37L2.91 -11.73L3.08 -11.09L3.55 -10.63L4.19 -10.45L4.83 -10.63L5.30 -11.09ZM3.29 -2.58L2.45 -1.74L4.26 0.07L5.09 -0.77ZM2.45 0.07L3.29 0.90L5.09 -0.90L4.26 -1.74ZM5.09 0.90L5.93 0.07L4.12 -1.74L3.29 -0.90ZM5.93 -1.74L5.09 -2.58L3.29 -0.77L4.12 0.07ZM4.63 -0.84L4.46 -1.48L3.99 -1.94L3.35 -2.12L2.71 -1.94L2.25 -1.48L2.07 -0.84L2.25 -0.20L2.71 0.27L3.35 0.44L3.99 0.27L4.46 -0.20ZM5.47 0.00L5.30 -0.64L4.83 -1.11L4.19 -1.28L3.55 -1.11L3.08 -0.64L2.91 -0.00L3.08 0.64L3.55 1.11L4.19 1.28L4.83 1.11L5.30 0.64ZM6.31 -0.84L6.13 -1.48L5.67 -1.94L5.03 -2.12L4.39 -1.94L3.92 -1.48L3.75 -0.84L3.92 -0.20L4.39 0.27L5.03 0.44L5.67 0.27L6.13 -0.20ZM5.47 -1.68L5.30 -2.31L4.83 -2.78L4.19 -2.95L3.55 -2.78L3.08 -2.31L2.91 -1.68L3.08 -1.04L3.55 -0.57L4.19 -0.40L4.83 -0.57L5.30 -1.04Z"/>
<path id="g61" d="M3.35 -9.08L18.44 -9.08L18.44 -11.03L3.35 -11.03ZM3.35 -4.05L18.44 -4.05L18.44 -6.00L3.35 -6.00Z"/>
<path id="g66" d="M2.38 -17.60L2.38 0.00L4.33 0.00L4.33 -17.60ZM3.35 -16.62L10.89 -16.62L10.89 -18.57L3.35 -18.57ZM10.52 -16.49L13.04 -15.65L13.78 -17.87L11.26 -18.71ZM12.50 -15.86L13.34 -15.02L15.15 -16.83L14.31 -17.66ZM13.15 -15.37L13.99 -13.70L16.18 -14.79L15.34 -16.47ZM14.11 -14.25L14.11 -12.57L16.06 -12.57L16.06 -14.25ZM13.99 -13.12L13.15 -11.44L15.34 -10.35L16.18 -12.02ZM13.34 -11.80L12.50 -10.96L14.31 -9.15L15.15 -9.99ZM13.04 -11.16L10.52 -10.33L11.26 -8.11L13.78 -8.95ZM11.87 -17.60L11.74 -18.09L11.38 -18.44L10.89 -18.57L10.41 -18.44L10.05 -18.09L9.92 -17.60L10.05 -17.11L10.41 -16.75L10.89 -16.62L11.38 -16.75L11.74 -17.11ZM14.58 -16.76L14.42 -17.34L13.99 -17.77L13.41 -17.93L12.82 -17.77L12.40 -17.34L12.24 -16.76L12.40 -16.18L12.82 -15.75L13.41 -15.59L13.99 -15.75L14.42 -16.18ZM15.47 -15.92L15.31 -16.53L14.86 -16.98L14.25 -17.15L13.63 -16.98L13.19 -16.53L13.02 -15.92L13.19 -15.31L13.63 -14.86L14.25 -14.70L14.86 -14.86L15.31 -15.31ZM16.06 -14.25L15.93 -14.73L15.57 -15.09L15.08 -15.22L14.60 -15.09L14.24 -14.73L14.11 -14.25L14.24 -13.76L14.60 -13.40L15.08 -13.27L15.57 -13.40L15.93 -13.76ZM16.06 -12.57L15.93 -13.06L15.57 -13.41L15.08 -13.54L14.60 -13.41L14.24 -13.06L14.11 -12.57L14.24 -12.08L14.60 -11.73L15.08 -11.60L15.57 -11.73L15.93 -12.08ZM15.47 -10.89L15.31 -11.51L14.86 -11.95L14.25 -12.12L13.63 -11.95L13.19 -11.51L13.02 -10.89L13.19 -10.28L13.63 -9.83L14.25 -9.67L14.86 -9.83L15.31 -10.28ZM14.58 -10.06L14.42 -10.64L13.99 -11.07L13.41 -11.22L12.82 -11.07L12.40 -10.64L12.24 -10.06L12.40 -9.47L12.82 -9.04L13.41 -8.89L13.99 -9.04L14.42 -9.47ZM3.35 -8.24L10.89 -8.24L10.89 -10.19L3.35 -10.19ZM10.52 -8.11L13.04 -7.27L13.78 -9.49L11.26 -10.33ZM12.50 -7.48L13.34 -6.64L15.15 -8.45L14.31 -9.28ZM13.15 -6.99L13.99 -5.32L16.18 -6.41L15.34 -8.09ZM14.11 -5.87L14.11 -3.35L16.06 -3.35L16.06 -5.87ZM13.99 -3.90L13.15 -2.22L15.34 -1.13L16.18 -2.80ZM13.34 -2.58L12.50 -1.74L14.31 0.07L15.15 -0.77ZM13.04 -1.95L10.52 -1.11L11.26 1.11L13.78 0.27ZM10.89 -0.97L3.35 -0.97L3.35 0.97L10.89 0.97ZM11.87 -9.22L11.74 -9.71L11.38 -10.06L10.89 -10.19L10.41 -10.06L10.05 -9.71L9.92 -9.22L10.05 -8.73L10.41 -8.37L10.89 -8.24L11.38 -8.37L11.74 -8.73ZM14.58 -8.38L14.42 -8.96L13.99 -9.39L13.41 -9.55L12.82 -9.39L12.40 -8.96L12.24 -8.38L12.40 -7.80L12.82 -7.37L13.41 -7.21L13.99 -7.37L14.42 -7.80ZM15.47 -7.54L15.31 -8.15L14.86 -8.60L14.25 -8.77L13.63 -8.60L13.19 -8.15L13.02 -7.54L13.19 -6.93L13.63 -6.48L14.25 -6.32L14.86 -6.48L15.31 -6.93ZM16.06 -5.87L15.93 -6.35L15.57 -6.71L15.08 -6.84L14.60 -6.71L14.24 -6.35L14.11 -5.87L14.24 -5.38L14.60 -5.02L15.08 -4.89L15.57 -5.02L15.93 -5.38ZM16.06 -3.35L15.93 -3.84L15.57 -4.20L15.08 -4.33L14.60 -4.20L14.24 -3.84L14.11 -3.35L14.24 -2.86L14.60 -2.51L15.08 -2.38L15.57 -2.51L15.93 -2.86ZM15.47 -1.68L15.31 -2.29L14.86 -2.74L14.25 -2.90L13.63 -2.74L13.19 -2.29L13.02 -1.68L13.19 -1.06L13.63 -0.62L14.25 -0.45L14.86 -0.62L15.31 -1.06ZM14.58 -0.84L14.42 -1.42L13.99 -1.85L13.41 -2.01L12.82 -1.85L12.40 -1.42L12.24 -0.84L12.40 -0.25L12.82 0.17L13.41 0.33L13.99 0.17L14.42 -0.25ZM11.87 0.00L11.74 -0.49L11.38 -0.84L10.89 -0.97L10.41 -0.84L10.05 -0.49L9.92 -0.00L10.05 0.49L10.41 0.84L10.89 0.97L11.38 0.84L11.74 0.49Z"/>
<path id="g69" d="M2.38 -17.60L2.38 0.00L4.33 0.00L4.33 -17.60ZM3.35 -16.62L14.25 -16.62L14.25 -18.57L3.35 -18.57ZM3.35 -8.24L10.06 -8.24L10.06 -10.19L3.35 -10.19ZM3.35 0.97L14.25 0.97L14.25 -0.97L3.35 -0.97Z"/>
<path id="g71" d="M16.18 -13.96L15.34 -15.63L13.15 -14.54L13.99 -12.86ZM15.15 -15.99L13.47 -17.66L11.67 -15.86L13.34 -14.18ZM13.12 -17.86L11.44 -18.69L10.35 -16.50L12.02 -15.66ZM10.89 -18.57L7.54 -18.57L7.54 -16.62L10.89 -16.62ZM6.99 -18.69L5.32 -17.86L6.41 -15.66L8.09 -16.50ZM4.96 -17.66L3.29 -15.99L5.09 -14.18L6.77 -15.86ZM3.09 -15.63L2.26 -13.96L4.45 -12.86L5.29 -14.54ZM2.24 -13.78L1.41 -11.26L3.62 -10.52L4.46 -13.04ZM1.54 -10.89L1.54 -6.70L3.49 -6.70L3.49 -10.89ZM1.41 -6.33L2.24 -3.82L4.46 -4.56L3.62 -7.07ZM2.26 -3.64L3.09 -1.97L5.29 -3.06L4.45 -4.74ZM3.29 -1.61L4.96 0.07L6.77 -1.74L5.09 -3.42ZM5.32 0.26L6.99 1.10L8.09 -1.10L6.41 -1.93ZM7.54 0.97L10.89 0.97L10.89 -0.97L7.54 -0.97ZM11.44 1.10L13.12 0.26L12.02 -1.93L10.35 -1.10ZM13.47 0.07L15.15 -1.61L13.34 -3.42L11.67 -1.74ZM15.34 -1.97L16.18 -3.64L13.99 -4.74L13.15 -3.06ZM16.06 -4.19L16.06 -6.70L14.11 -6.70L14.11 -4.19ZM15.47 -15.08L15.31 -15.70L14.86 -16.14L14.25 -16.31L13.63 -16.14L13.19 -15.70L13.02 -15.08L13.19 -14.47L13.63 -14.02L14.25 -13.86L14.86 -14.02L15.31 -14.47ZM13.79 -16.76L13.63 -17.37L13.18 -17.82L12.57 -17.98L11.96 -17.82L11.51 -17.37L11.35 -16.76L11.51 -16.15L11.96 -15.70L12.57 -15.54L13.18 -15.70L13.63 -16.15ZM11.87 -17.60L11.74 -18.09L11.38 -18.44L10.89 -18.57L10.41 -18.44L10.05 -18.09L9.92 -17.60L10.05 -17.11L10.41 -16.75L10.89 -16.62L11.38 -16.75L11.74 -17.11ZM8.52 -17.60L8.39 -18.09L8.03 -18.44L7.54 -18.57L7.05 -18.44L6.70 -18.09L6.57 -17.60L6.70 -17.11L7.05 -16.75L7.54 -16.62L8.03 -16.75L8.39 -17.11ZM7.09 -16.76L6.93 -17.37L6.48 -17.82L5.87 -17.98L5.25 -17.82L4.81 -17.37L4.64 -16.76L4.81 -16.15L5.25 -15.70L5.87 -15.54L6.48 -15.70L6.93 -16.15ZM5.41 -15.08L5.25 -15.70L4.80 -16.14L4.19 -16.31L3.58 -16.14L3.13 -15.70L2.97 -15.08L3.13 -14.47L3.58 -14.02L4.19 -13.86L4.80 -14.02L5.25 -14.47ZM4.52 -13.41L4.36 -13.99L3.94 -14.42L3.35 -14.58L2.77 -14.42L2.34 -13.99L2.18 -13.41L2.34 -12.82L2.77 -12.40L3.35 -12.24L3.94 -12.40L4.36 -12.82ZM3.49 -10.89L3.36 -11.38L3.00 -11.74L2.51 -11.87L2.03 -11.74L1.67 -11.38L1.54 -10.89L1.67 -10.41L2.03 -10.05L2.51 -9.92L3.00 -10.05L3.36 -10.41ZM3.49 -6.70L3.36 -7.19L3.00 -7.55L2.51 -7.68L2.03 -7.55L1.67 -7.19L1.54 -6.70L1.67 -6.22L2.03 -5.86L2.51 -5.73L3.00 -5.86L3.36 -6.22ZM4.52 -4.19L4.36 -4.77L3.94 -5.20L3.35 -5.36L2.77 -5.20L2.34 -4.77L2.18 -4.19L2.34 -3.61L2.77 -3.18L3.35 -3.02L3.94 -3.18L4.36 -3.61ZM5.41 -2.51L5.25 -3.13L4.80 -3.57L4.19 -3.74L3.58 -3.57L3.13 -3.13L2.97 -2.51L3.13 -1.90L3.58 -1.45L4.19 -1.29L4.80 -1.45L5.25 -1.90ZM7.09 -0.84L6.93 -1.45L6.48 -1.90L5.87 -2.06L5.25 -1.90L4.81 -1.45L4.64 -0.84L4.81 -0.23L5.25 0.22L5.87 0.39L6.48 0.22L6.93 -0.23ZM8.52 0.00L8.39 -0.49L8.03 -0.84L7.54 -0.97L7.05 -0.84L6.70 -0.49L6.57 -0.00L6.70 0.49L7.05 0.84L7.54 0.97L8.03 0.84L8.39 0.49ZM11.87 0.00L11.74 -0.49L11.38 -0.84L10.89 -0.97L10.41 -0.84L10.05 -0.49L9.92 -0.00L10.05 0.49L10.41 0.84L10.89 0.97L11.38 0.84L11.74 0.49ZM13.79 -0.84L13.63 -1.45L13.18 -1.90L12.57 -2.06L11.96 -1.90L11.51 -1.45L11.35 -0.84L11.51 -0.23L11.96 0.22L12.57 0.39L13.18 0.22L13.63 -0.23ZM15.47 -2.51L15.31 -3.13L14.86 -3.57L14.25 -3.74L13.63 -3.57L13.19 -3.13L13.02 -2.51L13.19 -1.90L13.63 -1.45L14.25 -1.29L14.86 -1.45L15.31 -1.90ZM16.06 -4.19L15.93 -4.68L15.57 -5.03L15.08 -5.16L14.60 -5.03L14.24 -4.68L14.11 -4.19L14.24 -3.70L14.60 -3.35L15.08 -3.21L15.57 -3.35L15.93 -3.70ZM10.89 -5.73L15.08 -5.73L15.08 -7.68L10.89 -7.68Z"/>
<path id="g77" d="M2.38 -17.60L2.38 0.00L4.33 0.00L4.33 -17.60ZM2.24 -17.18L8.95 0.42L11.17 -0.42L4.46 -18.02ZM15.65 -18.02L8.95 -0.42L11.17 0.42L17.87 -17.18ZM15.78 -17.60L15.78 0.00L17.73 0.00L17.73 -17.60Z"/>
<path id="g82" d="M2.38 -17.60L2.38 0.00L4.33 0.00L4.33 -17.60ZM3.35 -16.62L10.89 -16.62L10.89 -18.57L3.35 -18.57ZM10.52 -16.49L13.04 -15.65L13.78 -17.87L11.26 -18.71ZM12.50 -15.86L13.34 -15.02L15.15 -16.83L14.31 -17.66ZM13.15 -15.37L13.99 -13.70L16.18 -14.79L15.34 -16.47ZM14.11 -14.25L14.11 -12.57L16.06 -12.57L16.06 -14.25ZM13.99 -13.12L13.15 -11.44L15.34 -10.35L16.18 -12.02ZM13.34 -11.80L12.50 -10.96L14.31 -9.15L15.15 -9.99ZM13.04 -11.16L10.52 -10.33L11.26 -8.11L13.78 -8.95ZM10.89 -10.19L3.35 -10.19L3.35 -8.24L10.89 -8.24ZM11.87 -17.60L11.74 -18.09L11.38 -18.44L10.89 -18.57L10.41 -18.44L10.05 -18.09L9.92 -17.60L10.05 -17.11L10.41 -16.75L10.89 -16.62L11.38 -16.75L11.74 -17.11ZM14.58 -16.76L14.42 -17.34L13.99 -17.77L13.41 -17.93L12.82 -17.77L12.40 -17.34L12.24 -16.76L12.40 -16.18L12.82 -15.75L13.41 -15.59L13.99 -15.75L14.42 -16.18ZM15.47 -15.92L15.31 -16.53L14.86 -16.98L14.25 -17.15L13.63 -16.98L13.19 -16.53L13.02 -15.92L13.19 -15.31L13.63 -14.86L14.25 -14.70L14.86 -14.86L15.31 -15.31ZM16.06 -14.25L15.93 -14.73L15.57 -15.09L15.08 -15.22L14.60 -15.09L14.24 -14.73L14.11 -14.25L14.24 -13.76L14.60 -13.40L15.08 -13.27L15.57 -13.40L15.93 -13.76ZM16.06 -12.57L15.93 -13.06L15.57 -13.41L15.08 -13.54L14.60 -13.41L14.24 -13.06L14.11 -12.57L14.24 -12.08L14.60 -11.73L15.08 -11.60L15.57 -11.73L15.93 -12.08ZM15.47 -10.89L15.31 -11.51L14.86 -11.95L14.25 -12.12L13.63 -11.95L13.19 -11.51L13.02 -10.89L13.19 -10.28L13.63 -9.83L14.25 -9.67L14.86 -9.83L15.31 -10.28ZM14.58 -10.06L14.42 -10.64L13.99 -11.07L13.41 -11.22L12.82 -11.07L12.40 -10.64L12.24 -10.06L12.40 -9.47L12.82 -9.04L13.41 -8.89L13.99 -9.04L14.42 -9.47ZM11.87 -9.22L11.74 -9.71L11.38 -10.06L10.89 -10.19L10.41 -10.06L10.05 -9.71L9.92 -9.22L10.05 -8.73L10.41 -8.37L10.89 -8.24L11.38 -8.37L11.74 -8.73ZM8.16 -8.55L14.03 0.67L16.14 -0.67L10.28 -9.89Z"/>
<path id="g83" d="M15.15 -15.99L13.47 -17.66L11.67 -15.86L13.34 -14.18ZM12.94 -17.87L10.43 -18.71L9.69 -16.49L12.20 -15.65ZM10.06 -18.57L6.70 -18.57L6.70 -16.62L10.06 -16.62ZM6.33 -18.71L3.82 -17.87L4.56 -15.65L7.07 -16.49ZM3.29 -17.66L1.61 -15.99L3.42 -14.18L5.09 -15.86ZM1.54 -15.08L1.54 -13.41L3.49 -13.41L3.49 -15.08ZM1.42 -12.86L2.26 -11.18L4.45 -12.28L3.61 -13.96ZM2.45 -10.83L3.29 -9.99L5.09 -11.80L4.26 -12.64ZM3.64 -9.80L5.32 -8.96L6.41 -11.15L4.74 -11.99ZM5.50 -8.95L10.52 -7.27L11.26 -9.49L6.24 -11.16ZM10.35 -7.28L12.02 -6.45L13.12 -8.64L11.44 -9.48ZM11.67 -6.64L12.50 -5.80L14.31 -7.61L13.47 -8.45ZM12.31 -6.16L13.15 -4.48L15.34 -5.58L14.50 -7.25ZM13.27 -5.03L13.27 -2.51L15.22 -2.51L15.22 -5.03ZM13.34 -3.42L11.67 -1.74L13.47 0.07L15.15 -1.61ZM12.20 -1.95L9.69 -1.11L10.43 1.11L12.94 0.27ZM10.06 -0.97L6.70 -0.97L6.70 0.97L10.06 0.97ZM7.07 -1.11L4.56 -1.95L3.82 0.27L6.33 1.11ZM5.09 -1.74L3.42 -3.42L1.61 -1.61L3.29 0.07ZM13.74 -16.76L13.58 -17.34L13.15 -17.77L12.57 -17.93L11.99 -17.77L11.56 -17.34L11.40 -16.76L11.56 -16.18L11.99 -15.75L12.57 -15.59L13.15 -15.75L13.58 -16.18ZM11.03 -17.60L10.90 -18.09L10.54 -18.44L10.06 -18.57L9.57 -18.44L9.21 -18.09L9.08 -17.60L9.21 -17.11L9.57 -16.75L10.06 -16.62L10.54 -16.75L10.90 -17.11ZM7.68 -17.60L7.55 -18.09L7.19 -18.44L6.70 -18.57L6.22 -18.44L5.86 -18.09L5.73 -17.60L5.86 -17.11L6.22 -16.75L6.70 -16.62L7.19 -16.75L7.55 -17.11ZM5.36 -16.76L5.20 -17.34L4.77 -17.77L4.19 -17.93L3.61 -17.77L3.18 -17.34L3.02 -16.76L3.18 -16.18L3.61 -15.75L4.19 -15.59L4.77 -15.75L5.20 -16.18ZM3.49 -15.08L3.36 -15.57L3.00 -15.93L2.51 -16.06L2.03 -15.93L1.67 -15.57L1.54 -15.08L1.67 -14.60L2.03 -14.24L2.51 -14.11L3.00 -14.24L3.36 -14.60ZM3.49 -13.41L3.36 -13.90L3.00 -14.25L2.51 -14.38L2.03 -14.25L1.67 -13.90L1.54 -13.41L1.67 -12.92L2.03 -12.56L2.51 -12.43L3.00 -12.56L3.36 -12.92ZM4.58 -11.73L4.41 -12.34L3.96 -12.79L3.35 -12.96L2.74 -12.79L2.29 -12.34L2.13 -11.73L2.29 -11.12L2.74 -10.67L3.35 -10.51L3.96 -10.67L4.41 -11.12ZM5.41 -10.89L5.25 -11.51L4.80 -11.95L4.19 -12.12L3.58 -11.95L3.13 -11.51L2.97 -10.89L3.13 -10.28L3.58 -9.83L4.19 -9.67L4.80 -9.83L5.25 -10.28ZM7.03 -10.06L6.88 -10.64L6.45 -11.07L5.87 -11.22L5.28 -11.07L4.85 -10.64L4.70 -10.06L4.85 -9.47L5.28 -9.04L5.87 -8.89L6.45 -9.04L6.88 -9.47ZM12.06 -8.38L11.91 -8.96L11.48 -9.39L10.89 -9.55L10.31 -9.39L9.88 -8.96L9.73 -8.38L9.88 -7.80L10.31 -7.37L10.89 -7.21L11.48 -7.37L11.91 -7.80ZM13.79 -7.54L13.63 -8.15L13.18 -8.60L12.57 -8.77L11.96 -8.60L11.51 -8.15L11.35 -7.54L11.51 -6.93L11.96 -6.48L12.57 -6.32L13.18 -6.48L13.63 -6.93ZM14.63 -6.70L14.47 -7.32L14.02 -7.76L13.41 -7.93L12.80 -7.76L12.35 -7.32L12.18 -6.70L12.35 -6.09L12.80 -5.64L13.41 -5.48L14.02 -5.64L14.47 -6.09ZM15.22 -5.03L15.09 -5.52L14.73 -5.87L14.25 -6.00L13.76 -5.87L13.40 -5.52L13.27 -5.03L13.40 -4.54L13.76 -4.18L14.25 -4.05L14.73 -4.18L15.09 -4.54ZM15.22 -2.51L15.09 -3.00L14.73 -3.36L14.25 -3.49L13.76 -3.36L13.40 -3.00L13.27 -2.51L13.40 -2.03L13.76 -1.67L14.25 -1.54L14.73 -1.67L15.09 -2.03ZM13.74 -0.84L13.58 -1.42L13.15 -1.85L12.57 -2.01L11.99 -1.85L11.56 -1.42L11.40 -0.84L11.56 -0.25L11.99 0.17L12.57 0.33L13.15 0.17L13.58 -0.25ZM11.03 0.00L10.90 -0.49L10.54 -0.84L10.06 -0.97L9.57 -0.84L9.21 -0.49L9.08 -0.00L9.21 0.49L9.57 0.84L10.06 0.97L10.54 0.84L10.90 0.49ZM7.68 0.00L7.55 -0.49L7.19 -0.84L6.70 -0.97L6.22 -0.84L5.86 -0.49L5.73 -0.00L5.86 0.49L6.22 0.84L6.70 0.97L7.19 0.84L7.55 0.49ZM5.36 -0.84L5.20 -1.42L4.77 -1.85L4.19 -2.01L3.61 -1.85L3.18 -1.42L3.02 -0.84L3.18 -0.25L3.61 0.17L4.19 0.33L4.77 0.17L5.20 -0.25Z"/>
<path id="g85" d="M2.38 -17.60L2.38 -5.03L4.33 -5.03L4.33 -17.60ZM2.24 -4.66L3.08 -2.14L5.30 -2.88L4.46 -5.40ZM3.29 -1.61L4.96 0.07L6.77 -1.74L5.09 -3.42ZM5.50 0.27L8.01 1.11L8.75 -1.11L6.24 -1.95ZM8.38 0.97L10.06 0.97L10.06 -0.97L8.38 -0.97ZM10.43 1.11L12.94 0.27L12.20 -1.95L9.69 -1.11ZM13.47 0.07L15.15 -1.61L13.34 -3.42L11.67 -1.74ZM15.35 -2.14L16.19 -4.66L13.98 -5.40L13.14 -2.88ZM16.06 -5.03L16.06 -17.60L14.11 -17.60L14.11 -5.03ZM4.33 -5.03L4.20 -5.52L3.84 -5.87L3.35 -6.00L2.86 -5.87L2.51 -5.52L2.38 -5.03L2.51 -4.54L2.86 -4.18L3.35 -4.05L3.84 -4.18L4.20 -4.54ZM5.36 -2.51L5.20 -3.10L4.77 -3.53L4.19 -3.68L3.61 -3.53L3.18 -3.10L3.02 -2.51L3.18 -1.93L3.61 -1.50L4.19 -1.35L4.77 -1.50L5.20 -1.93ZM7.03 -0.84L6.88 -1.42L6.45 -1.85L5.87 -2.01L5.28 -1.85L4.85 -1.42L4.70 -0.84L4.85 -0.25L5.28 0.17L5.87 0.33L6.45 0.17L6.88 -0.25ZM9.35 0.00L9.22 -0.49L8.87 -0.84L8.38 -0.97L7.89 -0.84L7.54 -0.49L7.40 -0.00L7.54 0.49L7.89 0.84L8.38 0.97L8.87 0.84L9.22 0.49ZM11.03 0.00L10.90 -0.49L10.54 -0.84L10.06 -0.97L9.57 -0.84L9.21 -0.49L9.08 -0.00L9.21 0.49L9.57 0.84L10.06 0.97L10.54 0.84L10.90 0.49ZM13.74 -0.84L13.58 -1.42L13.15 -1.85L12.57 -2.01L11.99 -1.85L11.56 -1.42L11.40 -0.84L11.56 -0.25L11.99 0.17L12.57 0.33L13.15 0.17L13.58 -0.25ZM15.41 -2.51L15.26 -3.10L14.83 -3.53L14.25 -3.68L13.66 -3.53L13.23 -3.10L13.08 -2.51L13.23 -1.93L13.66 -1.50L14.25 -1.35L14.83 -1.50L15.26 -1.93ZM16.06 -5.03L15.93 -5.52L15.57 -5.87L15.08 -6.00L14.60 -5.87L14.24 -5.52L14.11 -5.03L14.24 -4.54L14.60 -4.18L15.08 -4.05L15.57 -4.18L15.93 -4.54Z"/>
<path id="g86" d="M-0.27 -17.18L6.43 0.42L8.65 -0.42L1.95 -18.02ZM13.14 -18.02L6.43 -0.42L8.65 0.42L15.36 -17.18Z"/>
<path id="g87" d="M0.58 -17.34L4.77 0.26L6.96 -0.26L2.77 -17.86ZM8.96 -17.86L4.77 -0.26L6.96 0.26L11.15 -17.34ZM8.96 -17.34L13.15 0.26L15.34 -0.26L11.15 -17.86ZM17.34 -17.86L13.15 -0.26L15.34 0.26L19.53 -17.34Z"/>
<path id="g97" d="M11.60 -11.73L11.60 0.00L13.54 0.00L13.54 -11.73ZM13.47 -10.12L11.80 -11.80L9.99 -9.99L11.67 -8.31ZM11.44 -11.99L9.77 -12.83L8.67 -10.64L10.35 -9.80ZM9.22 -12.71L6.70 -12.71L6.70 -10.76L9.22 -10.76ZM6.16 -12.83L4.48 -11.99L5.58 -9.80L7.25 -10.64ZM4.12 -11.80L2.45 -10.12L4.26 -8.31L5.93 -9.99ZM2.24 -9.59L1.41 -7.07L3.62 -6.33L4.46 -8.85ZM1.54 -6.70L1.54 -5.03L3.49 -5.03L3.49 -6.70ZM1.41 -4.66L2.24 -2.14L4.46 -2.88L3.62 -5.40ZM2.45 -1.61L4.12 0.07L5.93 -1.74L4.26 -3.42ZM4.48 0.26L6.16 1.10L7.25 -1.10L5.58 -1.93ZM6.70 0.97L9.22 0.97L9.22 -0.97L6.70 -0.97ZM9.77 1.10L11.44 0.26L10.35 -1.93L8.67 -1.10ZM11.80 0.07L13.47 -1.61L11.67 -3.42L9.99 -1.74ZM12.12 -10.89L11.95 -11.51L11.51 -11.95L10.89 -12.12L10.28 -11.95L9.83 -11.51L9.67 -10.89L9.83 -10.28L10.28 -9.83L10.89 -9.67L11.51 -9.83L11.95 -10.28ZM10.19 -11.73L10.06 -12.22L9.71 -12.58L9.22 -12.71L8.73 -12.58L8.37 -12.22L8.24 -11.73L8.37 -11.24L8.73 -10.89L9.22 -10.76L9.71 -10.89L10.06 -11.24ZM7.68 -11.73L7.55 -12.22L7.19 -12.58L6.70 -12.71L6.22 -12.58L5.86 -12.22L5.73 -11.73L5.86 -11.24L6.22 -10.89L6.70 -10.76L7.19 -10.89L7.55 -11.24ZM6.25 -10.89L6.09 -11.51L5.64 -11.95L5.03 -12.12L4.42 -11.95L3.97 -11.51L3.80 -10.89L3.97 -10.28L4.42 -9.83L5.03 -9.67L5.64 -9.83L6.09 -10.28ZM4.52 -9.22L4.36 -9.80L3.94 -10.23L3.35 -10.39L2.77 -10.23L2.34 -9.80L2.18 -9.22L2.34 -8.63L2.77 -8.21L3.35 -8.05L3.94 -8.21L4.36 -8.63ZM3.49 -6.70L3.36 -7.19L3.00 -7.55L2.51 -7.68L2.03 -7.55L1.67 -7.19L1.54 -6.70L1.67 -6.22L2.03 -5.86L2.51 -5.73L3.00 -5.86L3.36 -6.22ZM3.49 -5.03L3.36 -5.52L3.00 -5.87L2.51 -6.00L2.03 -5.87L1.67 -5.52L1.54 -5.03L1.67 -4.54L2.03 -4.18L2.51 -4.05L3.00 -4.18L3.36 -4.54ZM4.52 -2.51L4.36 -3.10L3.94 -3.53L3.35 -3.68L2.77 -3.53L2.34 -3.10L2.18 -2.51L2.34 -1.93L2.77 -1.50L3.35 -1.35L3.94 -1.50L4.36 -1.93ZM6.25 -0.84L6.09 -1.45L5.64 -1.90L5.03 -2.06L4.42 -1.90L3.97 -1.45L3.80 -0.84L3.97 -0.23L4.42 0.22L5.03 0.39L5.64 0.22L6.09 -0.23ZM7.68 0.00L7.55 -0.49L7.19 -0.84L6.70 -0.97L6.22 -0.84L5.86 -0.49L5.73 -0.00L5.86 0.49L6.22 0.84L6.70 0.97L7.19 0.84L7.55 0.49ZM10.19 0.00L10.06 -0.49L9.71 -0.84L9.22 -0.97L8.73 -0.84L8.37 -0.49L8.24 -0.00L8.37 0.49L8.73 0.84L9.22 0.97L9.71 0.84L10.06 0.49ZM12.12 -0.84L11.95 -1.45L11.51 -1.90L10.89 -2.06L10.28 -1.90L9.83 -1.45L9.67 -0.84L9.83 -0.23L10.28 0.22L10.89 0.39L11.51 0.22L11.95 -0.23Z"/>
<path id="g99" d="M13.47 -10.12L11.80 -11.80L9.99 -9.99L11.67 -8.31ZM11.44 -11.99L9.77 -12.83L8.67 -10.64L10.35 -9.80ZM9.22 -12.71L6.70 -12.71L6.70 -10.76L9.22 -10.76ZM6.16 -12.83L4.48 -11.99L5.58 -9.80L7.25 -10.64ZM4.12 -11.80L2.45 -10.12L4.26 -8.31L5.93 -9.99ZM2.24 -9.59L1.41 -7.07L3.62 -6.33L4.46 -8.85ZM1.54 -6.70L1.54 -5.03L3.49 -5.03L3.49 -6.70ZM1.41 -4.66L2.24 -2.14L4.46 -2.88L3.62 -5.40ZM2.45 -1.61L4.12 0.07L5.93 -1.74L4.26 -3.42ZM4.48 0.26L6.16 1.10L7.25 -1.10L5.58 -1.93ZM6.70 0.97L9.22 0.97L9.22 -0.97L6.70 -0.97ZM9.77 1.10L11.44 0.26L10.35 -1.93L8.67 -1.10ZM11.80 0.07L13.47 -1.61L11.67 -3.42L9.99 -1.74ZM12.12 -10.89L11.95 -11.51L11.51 -11.95L10.89 -12.12L10.28 -11.95L9.83 -11.51L9.67 -10.89L9.83 -10.28L10.28 -9.83L10.89 -9.67L11.51 -9.83L11.95 -10.28ZM10.19 -11.73L10.06 -12.22L9.71 -12.58L9.22 -12.71L8.73 -12.58L8.37 -12.22L8.24 -11.73L8.37 -11.24L8.73 -10.89L9.22 -10.76L9.71 -10.89L10.06 -11.24ZM7.68 -11.73L7.55 -12.22L7.19 -12.58L6.70 -12.71L6.22 -12.58L5.86 -12.22L5.73 -11.73L5.86 -11.24L6.22 -10.89L6.70 -10.76L7.19 -10.89L7.55 -11.24ZM6.25 -10.89L6.09 -11.51L5.64 -11.95L5.03 -12.12L4.42 -11.95L3.97 -11.51L3.80 -10.89L3.97 -10.28L4.42 -9.83L5.03 -9.67L5.64 -9.83L6.09 -10.28ZM4.52 -9.22L4.36 -9.80L3.94 -10.23L3.35 -10.39L2.77 -10.23L2.34 -9.80L2.18 -9.22L2.34 -8.63L2.77 -8.21L3.35 -8.05L3.94 -8.21L4.36 -8.63ZM3.49 -6.70L3.36 -7.19L3.00 -7.55L2.51 -7.68L2.03 -7.55L1.67 -7.19L1.54 -6.70L1.67 -6.22L2.03 -5.86L2.51 -5.73L3.00 -5.86L3.36 -6.22ZM3.49 -5.03L3.36 -5.52L3.00 -5.87L2.51 -6.00L2.03 -5.87L1.67 -5.52L1.54 -5.03L1.67 -4.54L2.03 -4.18L2.51 -4.05L3.00 -4.18L3.36 -4.54ZM4.52 -2.51L4.36 -3.10L3.94 -3.53L3.35 -3.68L2.77 -3.53L2.34 -3.10L2.18 -2.51L2.34 -1.93L2.77 -1.50L3.35 -1.35L3.94 -1.50L4.36 -1.93ZM6.25 -0.84L6.09 -1.45L5.64 -1.90L5.03 -2.06L4.42 -1.90L3.97 -1.45L3.80 -0.84L3.97 -0.23L4.42 0.22L5.03 0.39L5.64 0.22L6.09 -0.23ZM7.68 0.00L7.55 -0.49L7.19 -0.84L6.70 -0.97L6.22 -0.84L5.86 -0.49L5.73 -0.00L5.86 0.49L6.22 0.84L6.70 0.97L7.19 0.84L7.55 0.49ZM10.19 0.00L10.06 -0.49L9.71 -0.84L9.22 -0.97L8.73 -0.84L8.37 -0.49L8.24 -0.00L8.37 0.49L8.73 0.84L9.22 0.97L9.71 0.84L10.06 0.49ZM12.12 -0.84L11.95 -1.45L11.51 -1.90L10.89 -2.06L10.28 -1.90L9.83 -1.45L9.67 -0.84L9.83 -0.23L10.28 0.22L10.89 0.39L11.51 0.22L11.95 -0.23Z"/>
<path id="g100" d="M11.60 -17.60L11.60 0.00L13.54 0.00L13.54 -17.60ZM13.47 -10.12L11.80 -11.80L9.99 -9.99L11.67 -8.31ZM11.44 -11.99L9.77 -12.83L8.67 -10.64L10.35 -9.80ZM9.22 -12.71L6.70 -12.71L6.70 -10.76L9.22 -10.76ZM6.16 -12.83L4.48 -11.99L5.58 -9.80L7.25 -10.64ZM4.12 -11.80L2.45 -10.12L4.26 -8.31L5.93 -9.99ZM2.24 -9.59L1.41 -7.07L3.62 -6.33L4.46 -8.85ZM1.54 -6.70L1.54 -5.03L3.49 -5.03L3.49 -6.70ZM1.41 -4.66L2.24 -2.14L4.46 -2.88L3.62 -5.40ZM2.45 -1.61L4.12 0.07L5.93 -1.74L4.26 -3.42ZM4.48 0.26L6.16 1.10L7.25 -1.10L5.58 -1.93ZM6.70 0.97L9.22 0.97L9.22 -0.97L6.70 -0.97ZM9.77 1.10L11.44 0.26L10.35 -1.93L8.67 -1.10ZM11.80 0.07L13.47 -1.61L11.67 -3.42L9.99 -1.74ZM12.12 -10.89L11.95 -11.51L11.51 -11.95L10.89 -12.12L10.28 -11.95L9.83 -11.51L9.67 -10.89L9.83 -10.28L10.28 -9.83L10.89 -9.67L11.51 -9.83L11.95 -10.28ZM10.19 -11.73L10.06 -12.22L9.71 -12.58L9.22 -12.71L8.73 -12.58L8.37 -12.22L8.24 -11.73L8.37 -11.24L8.73 -10.89L9.22 -10.76L9.71 -10.89L10.06 -11.24ZM7.68 -11.73L7.55 -12.22L7.19 -12.58L6.70 -12.71L6.22 -12.58L5.86 -12.22L5.73 -11.73L5.86 -11.24L6.22 -10.89L6.70 -10.76L7.19 -10.89L7.55 -11.24ZM6.25 -10.89L6.09 -11.51L5.64 -11.95L5.03 -12.12L4.42 -11.95L3.97 -11.51L3.80 -10.89L3.97 -10.28L4.42 -9.83L5.03 -9.67L5.64 -9.83L6.09 -10.28ZM4.52 -9.22L4.36 -9.80L3.94 -10.23L3.35 -10.39L2.77 -10.23L2.34 -9.80L2.18 -9.22L2.34 -8.63L2.77 -8.21L3.35 -8.05L3.94 -8.21L4.36 -8.63ZM3.49 -6.70L3.36 -7.19L3.00 -7.55L2.51 -7.68L2.03 -7.55L1.67 -7.19L1.54 -6.70L1.67 -6.22L2.03 -5.86L2.51 -5.73L3.00 -5.86L3.36 -6.22ZM3.49 -5.03L3.36 -5.52L3.00 -5.87L2.51 -6.00L2.03 -5.87L1.67 -5.52L1.54 -5.03L1.67 -4.54L2.03 -4.18L2.51 -4.05L3.00 -4.18L3.36 -4.54ZM4.52 -2.51L4.36 -3.10L3.94 -3.53L3.35 -3.68L2.77 -3.53L2.34 -3.10L2.18 -2.51L2.34 -1.93L2.77 -1.50L3.35 -1.35L3.94 -1.50L4.36 -1.93ZM6.25 -0.84L6.09 -1.45L5.64 -1.90L5.03 -2.06L4.42 -1.90L3.97 -1.45L3.80 -0.84L3.97 -0.23L4.42 0.22L5.03 0.39L5.64 0.22L6.09 -0.23ZM7.68 0.00L7.55 -0.49L7.19 -0.84L6.70 -0.97L6.22 -0.84L5.86 -0.49L5.73 -0.00L5.86 0.49L6.22 0.84L6.70 0.97L7.19 0.84L7.55 0.49ZM10.19 0.00L10.06 -0.49L9.71 -0.84L9.22 -0.97L8.73 -0.84L8.37 -0.49L8.24 -0.00L8.37 0.49L8.73 0.84L9.22 0.97L9.71 0.84L10.06 0.49ZM12.12 -0.84L11.95 -1.45L11.51 -1.90L10.89 -2.06L10.28 -1.90L9.83 -1.45L9.67 -0.84L9.83 -0.23L10.28 0.22L10.89 0.39L11.51 0.22L11.95 -0.23Z"/>
<path id="g101" d="M2.51 -5.73L12.57 -5.73L12.57 -7.68L2.51 -7.68ZM13.54 -6.70L13.54 -8.38L11.60 -8.38L11.60 -6.70ZM13.67 -8.93L12.83 -10.60L10.64 -9.51L11.47 -7.83ZM12.64 -10.96L11.80 -11.80L9.99 -9.99L10.83 -9.15ZM11.44 -11.99L9.77 -12.83L8.67 -10.64L10.35 -9.80ZM9.22 -12.71L6.70 -12.71L6.70 -10.76L9.22 -10.76ZM6.16 -12.83L4.48 -11.99L5.58 -9.80L7.25 -10.64ZM4.12 -11.80L2.45 -10.12L4.26 -8.31L5.93 -9.99ZM2.24 -9.59L1.41 -7.07L3.62 -6.33L4.46 -8.85ZM1.54 -6.70L1.54 -5.03L3.49 -5.03L3.49 -6.70ZM1.41 -4.66L2.24 -2.14L4.46 -2.88L3.62 -5.40ZM2.45 -1.61L4.12 0.07L5.93 -1.74L4.26 -3.42ZM4.48 0.26L6.16 1.10L7.25 -1.10L5.58 -1.93ZM6.70 0.97L9.22 0.97L9.22 -0.97L6.70 -0.97ZM9.77 1.10L11.44 0.26L10.35 -1.93L8.67 -1.10ZM11.80 0.07L13.47 -1.61L11.67 -3.42L9.99 -1.74ZM13.54 -6.70L13.41 -7.19L13.06 -7.55L12.57 -7.68L12.08 -7.55L11.73 -7.19L11.60 -6.70L11.73 -6.22L12.08 -5.86L12.57 -5.73L13.06 -5.86L13.41 -6.22ZM13.54 -8.38L13.41 -8.87L13.06 -9.22L12.57 -9.35L12.08 -9.22L11.73 -8.87L11.60 -8.38L11.73 -7.89L12.08 -7.54L12.57 -7.40L13.06 -7.54L13.41 -7.89ZM12.96 -10.06L12.79 -10.67L12.34 -11.12L11.73 -11.28L11.12 -11.12L10.67 -10.67L10.51 -10.06L10.67 -9.44L11.12 -9.00L11.73 -8.83L12.34 -9.00L12.79 -9.44ZM12.12 -10.89L11.95 -11.51L11.51 -11.95L10.89 -12.12L10.28 -11.95L9.83 -11.51L9.67 -10.89L9.83 -10.28L10.28 -9.83L10.89 -9.67L11.51 -9.83L11.95 -10.28ZM10.19 -11.73L10.06 -12.22L9.71 -12.58L9.22 -12.71L8.73 -12.58L8.37 -12.22L8.24 -11.73L8.37 -11.24L8.73 -10.89L9.22 -10.76L9.71 -10.89L10.06 -11.24ZM7.68 -11.73L7.55 -12.22L7.19 -12.58L6.70 -12.71L6.22 -12.58L5.86 -12.22L5.73 -11.73L5.86 -11.24L6.22 -10.89L6.70 -10.76L7.19 -10.89L7.55 -11.24ZM6.25 -10.89L6.09 -11.51L5.64 -11.95L5.03 -12.12L4.42 -11.95L3.97 -11.51L3.80 -10.89L3.97 -10.28L4.42 -9.83L5.03 -9.67L5.64 -9.83L6.09 -10.28ZM4.52 -9.22L4.36 -9.80L3.94 -10.23L3.35 -10.39L2.77 -10.23L2.34 -9.80L2.18 -9.22L2.34 -8.63L2.77 -8.21L3.35 -8.05L3.94 -8.21L4.36 -8.63ZM3.49 -6.70L3.36 -7.19L3.00 -7.55L2.51 -7.68L2.03 -7.55L1.67 -7.19L1.54 -6.70L1.67 -6.22L2.03 -5.86L2.51 -5.73L3.00 -5.86L3.36 -6.22ZM3.49 -5.03L3.36 -5.52L3.00 -5.87L2.51 -6.00L2.03 -5.87L1.67 -5.52L1.54 -5.03L1.67 -4.54L2.03 -4.18L2.51 -4.05L3.00 -4.18L3.36 -4.54ZM4.52 -2.51L4.36 -3.10L3.94 -3.53L3.35 -3.68L2.77 -3.53L2.34 -3.10L2.18 -2.51L2.34 -1.93L2.77 -1.50L3.35 -1.35L3.94 -1.50L4.36 -1.93ZM6.25 -0.84L6.09 -1.45L5.64 -1.90L5.03 -2.06L4.42 -1.90L3.97 -1.45L3.80 -0.84L3.97 -0.23L4.42 0.22L5.03 0.39L5.64 0.22L6.09 -0.23ZM7.68 0.00L7.55 -0.49L7.19 -0.84L6.70 -0.97L6.22 -0.84L5.86 -0.49L5.73 -0.00L5.86 0.49L6.22 0.84L6.70 0.97L7.19 0.84L7.55 0.49ZM10.19 0.00L10.06 -0.49L9.71 -0.84L9.22 -0.97L8.73 -0.84L8.37 -0.49L8.24 -0.00L8.37 0.49L8.73 0.84L9.22 0.97L9.71 0.84L10.06 0.49ZM12.12 -0.84L11.95 -1.45L11.51 -1.90L10.89 -2.06L10.28 -1.90L9.83 -1.45L9.67 -0.84L9.83 -0.23L10.28 0.22L10.89 0.39L11.51 0.22L11.95 -0.23Z"/>
<path id="g102" d="M8.38 -18.57L6.70 -18.57L6.70 -16.62L8.38 -16.62ZM6.16 -18.69L4.48 -17.86L5.58 -15.66L7.25 -16.50ZM3.92 -17.13L3.08 -14.62L5.30 -13.88L6.14 -16.39ZM3.21 -14.25L3.21 0.00L5.16 0.00L5.16 -14.25ZM7.68 -17.60L7.55 -18.09L7.19 -18.44L6.70 -18.57L6.22 -18.44L5.86 -18.09L5.73 -17.60L5.86 -17.11L6.22 -16.75L6.70 -16.62L7.19 -16.75L7.55 -17.11ZM6.20 -16.76L6.04 -17.34L5.61 -17.77L5.03 -17.93L4.44 -17.77L4.02 -17.34L3.86 -16.76L4.02 -16.18L4.44 -15.75L5.03 -15.59L5.61 -15.75L6.04 -16.18ZM5.16 -14.25L5.03 -14.73L4.68 -15.09L4.19 -15.22L3.70 -15.09L3.35 -14.73L3.21 -14.25L3.35 -13.76L3.70 -13.40L4.19 -13.27L4.68 -13.40L5.03 -13.76ZM1.68 -10.76L7.54 -10.76L7.54 -12.71L1.68 -12.71Z"/>
<path id="g103" d="M11.60 -11.73L11.60 1.68L13.54 1.68L13.54 -11.73ZM11.46 1.31L10.62 3.82L12.84 4.56L13.68 2.05ZM10.83 3.29L9.99 4.12L11.80 5.93L12.64 5.09ZM10.35 3.93L8.67 4.77L9.77 6.96L11.44 6.12ZM9.22 4.89L6.70 4.89L6.70 6.84L9.22 6.84ZM7.25 4.77L5.58 3.93L4.48 6.12L6.16 6.96ZM13.54 1.68L13.41 1.19L13.06 0.83L12.57 0.70L12.08 0.83L11.73 1.19L11.60 1.68L11.73 2.16L12.08 2.52L12.57 2.65L13.06 2.52L13.41 2.16ZM12.90 4.19L12.74 3.61L12.32 3.18L11.73 3.02L11.15 3.18L10.72 3.61L10.56 4.19L10.72 4.77L11.15 5.20L11.73 5.36L12.32 5.20L12.74 4.77ZM12.12 5.03L11.95 4.42L11.51 3.97L10.89 3.80L10.28 3.97L9.83 4.42L9.67 5.03L9.83 5.64L10.28 6.09L10.89 6.25L11.51 6.09L11.95 5.64ZM10.19 5.87L10.06 5.38L9.71 5.02L9.22 4.89L8.73 5.02L8.37 5.38L8.24 5.87L8.37 6.35L8.73 6.71L9.22 6.84L9.71 6.71L10.06 6.35ZM7.68 5.87L7.55 5.38L7.19 5.02L6.70 4.89L6.22 5.02L5.86 5.38L5.73 5.87L5.86 6.35L6.22 6.71L6.70 6.84L7.19 6.71L7.55 6.35ZM13.47 -10.12L11.80 -11.80L9.99 -9.99L11.67 -8.31ZM11.44 -11.99L9.77 -12.83L8.67 -10.64L10.35 -9.80ZM9.22 -12.71L6.70 -12.71L6.70 -10.76L9.22 -10.76ZM6.16 -12.83L4.48 -11.99L5.58 -9.80L7.25 -10.64ZM4.12 -11.80L2.45 -10.12L4.26 -8.31L5.93 -9.99ZM2.24 -9.59L1.41 -7.07L3.62 -6.33L4.46 -8.85ZM1.54 -6.70L1.54 -5.03L3.49 -5.03L3.49 -6.70ZM1.41 -4.66L2.24 -2.14L4.46 -2.88L3.62 -5.40ZM2.45 -1.61L4.12 0.07L5.93 -1.74L4.26 -3.42ZM4.48 0.26L6.16 1.10L7.25 -1.10L5.58 -1.93ZM6.70 0.97L9.22 0.97L9.22 -0.97L6.70 -0.97ZM9.77 1.10L11.44 0.26L10.35 -1.93L8.67 -1.10ZM11.80 0.07L13.47 -1.61L11.67 -3.42L9.99 -1.74ZM12.12 -10.89L11.95 -11.51L11.51 -11.95L10.89 -12.12L10.28 -11.95L9.83 -11.51L9.67 -10.89L9.83 -10.28L10.28 -9.83L10.89 -9.67L11.51 -9.83L11.95 -10.28ZM10.19 -11.73L10.06 -12.22L9.71 -12.58L9.22 -12.71L8.73 -12.58L8.37 -12.22L8.24 -11.73L8.37 -11.24L8.73 -10.89L9.22 -10.76L9.71 -10.89L10.06 -11.24ZM7.68 -11.73L7.55 -12.22L7.19 -12.58L6.70 -12.71L6.22 -12.58L5.86 -12.22L5.73 -11.73L5.86 -11.24L6.22 -10.89L6.70 -10.76L7.19 -10.89L7.55 -11.24ZM6.25 -10.89L6.09 -11.51L5.64 -11.95L5.03 -12.12L4.42 -11.95L3.97 -11.51L3.80 -10.89L3.97 -10.28L4.42 -9.83L5.03 -9.67L5.64 -9.83L6.09 -10.28ZM4.52 -9.22L4.36 -9.80L3.94 -10.23L3.35 -10.39L2.77 -10.23L2.34 -9.80L2.18 -9.22L2.34 -8.63L2.77 -8.21L3.35 -8.05L3.94 -8.21L4.36 -8.63ZM3.49 -6.70L3.36 -7.19L3.00 -7.55L2.51 -7.68L2.03 -7.55L1.67 -7.19L1.54 -6.70L1.67 -6.22L2.03 -5.86L2.51 -5.73L3.00 -5.86L3.36 -6.22ZM3.49 -5.03L3.36 -5.52L3.00 -5.87L2.51 -6.00L2.03 -5.87L1.67 -5.52L1.54 -5.03L1.67 -4.54L2.03 -4.18L2.51 -4.05L3.00 -4.18L3.36 -4.54ZM4.52 -2.51L4.36 -3.10L3.94 -3.53L3.35 -3.68L2.77 -3.53L2.34 -3.10L2.18 -2.51L2.34 -1.93L2.77 -1.50L3.35 -1.35L3.94 -1.50L4.36 -1.93ZM6.25 -0.84L6.09 -1.45L5.64 -1.90L5.03 -2.06L4.42 -1.90L3.97 -1.45L3.80 -0.84L3.97 -0.23L4.42 0.22L5.03 0.39L5.64 0.22L6.09 -0.23ZM7.68 0.00L7.55 -0.49L7.19 -0.84L6.70 -0.97L6.22 -0.84L5.86 -0.49L5.73 -0.00L5.86 0.49L6.22 0.84L6.70 0.97L7.19 0.84L7.55 0.49ZM10.19 0.00L10.06 -0.49L9.71 -0.84L9.22 -0.97L8.73 -0.84L8.37 -0.49L8.24 -0.00L8.37 0.49L8.73 0.84L9.22 0.97L9.71 0.84L10.06 0.49ZM12.12 -0.84L11.95 -1.45L11.51 -1.90L10.89 -2.06L10.28 -1.90L9.83 -1.45L9.67 -0.84L9.83 -0.23L10.28 0.22L10.89 0.39L11.51 0.22L11.95 -0.23Z"/>
<path id="g104" d="M2.38 -17.60L2.38 0.00L4.33 0.00L4.33 -17.60ZM4.26 -7.48L6.77 -9.99L4.96 -11.80L2.45 -9.28ZM6.41 -9.80L8.09 -10.64L6.99 -12.83L5.32 -11.99ZM7.54 -10.76L10.06 -10.76L10.06 -12.71L7.54 -12.71ZM9.51 -10.64L11.18 -9.80L12.28 -11.99L10.60 -12.83ZM10.62 -10.52L11.46 -8.01L13.68 -8.75L12.84 -11.26ZM11.60 -8.38L11.60 0.00L13.54 0.00L13.54 -8.38ZM7.09 -10.89L6.93 -11.51L6.48 -11.95L5.87 -12.12L5.25 -11.95L4.81 -11.51L4.64 -10.89L4.81 -10.28L5.25 -9.83L5.87 -9.67L6.48 -9.83L6.93 -10.28ZM8.52 -11.73L8.39 -12.22L8.03 -12.58L7.54 -12.71L7.05 -12.58L6.70 -12.22L6.57 -11.73L6.70 -11.24L7.05 -10.89L7.54 -10.76L8.03 -10.89L8.39 -11.24ZM11.03 -11.73L10.90 -12.22L10.54 -12.58L10.06 -12.71L9.57 -12.58L9.21 -12.22L9.08 -11.73L9.21 -11.24L9.57 -10.89L10.06 -10.76L10.54 -10.89L10.90 -11.24ZM12.90 -10.89L12.74 -11.48L12.32 -11.91L11.73 -12.06L11.15 -11.91L10.72 -11.48L10.56 -10.89L10.72 -10.31L11.15 -9.88L11.73 -9.73L12.32 -9.88L12.74 -10.31ZM13.54 -8.38L13.41 -8.87L13.06 -9.22L12.57 -9.35L12.08 -9.22L11.73 -8.87L11.60 -8.38L11.73 -7.89L12.08 -7.54L12.57 -7.40L13.06 -7.54L13.41 -7.89Z"/>
<path id="g105" d="M1.61 -16.69L2.45 -15.86L4.26 -17.66L3.42 -18.50ZM4.26 -15.86L5.09 -16.69L3.29 -18.50L2.45 -17.66ZM5.09 -18.50L4.26 -19.34L2.45 -17.53L3.29 -16.69ZM2.45 -19.34L1.61 -18.50L3.42 -16.69L4.26 -17.53ZM4.63 -16.76L4.46 -17.40L3.99 -17.87L3.35 -18.04L2.71 -17.87L2.25 -17.40L2.07 -16.76L2.25 -16.12L2.71 -15.65L3.35 -15.48L3.99 -15.65L4.46 -16.12ZM5.47 -17.60L5.30 -18.24L4.83 -18.70L4.19 -18.88L3.55 -18.70L3.08 -18.24L2.91 -17.60L3.08 -16.96L3.55 -16.49L4.19 -16.32L4.83 -16.49L5.30 -16.96ZM4.63 -18.44L4.46 -19.07L3.99 -19.54L3.35 -19.71L2.71 -19.54L2.25 -19.07L2.07 -18.44L2.25 -17.80L2.71 -17.33L3.35 -17.16L3.99 -17.33L4.46 -17.80ZM3.79 -17.60L3.62 -18.24L3.15 -18.70L2.51 -18.88L1.88 -18.70L1.41 -18.24L1.24 -17.60L1.41 -16.96L1.88 -16.49L2.51 -16.32L3.15 -16.49L3.62 -16.96ZM2.38 -11.73L2.38 0.00L4.33 0.00L4.33 -11.73Z"/>
<path id="g108" d="M2.38 -17.60L2.38 0.00L4.33 0.00L4.33 -17.60Z"/>
<path id="g109" d="M2.38 -11.73L2.38 0.00L4.33 0.00L4.33 -11.73ZM4.26 -7.48L6.77 -9.99L4.96 -11.80L2.45 -9.28ZM6.41 -9.80L8.09 -10.64L6.99 -12.83L5.32 -11.99ZM7.54 -10.76L10.06 -10.76L10.06 -12.71L7.54 -12.71ZM9.51 -10.64L11.18 -9.80L12.28 -11.99L10.60 -12.83ZM10.62 -10.52L11.46 -8.01L13.68 -8.75L12.84 -11.26ZM11.60 -8.38L11.60 0.00L13.54 0.00L13.54 -8.38ZM7.09 -10.89L6.93 -11.51L6.48 -11.95L5.87 -12.12L5.25 -11.95L4.81 -11.51L4.64 -10.89L4.81 -10.28L5.25 -9.83L5.87 -9.67L6.48 -9.83L6.93 -10.28ZM8.52 -11.73L8.39 -12.22L8.03 -12.58L7.54 -12.71L7.05 -12.58L6.70 -12.22L6.57 -11.73L6.70 -11.24L7.05 -10.89L7.54 -10.76L8.03 -10.89L8.39 -11.24ZM11.03 -11.73L10.90 -12.22L10.54 -12.58L10.06 -12.71L9.57 -12.58L9.21 -12.22L9.08 -11.73L9.21 -11.24L9.57 -10.89L10.06 -10.76L10.54 -10.89L10.90 -11.24ZM12.90 -10.89L12.74 -11.48L12.32 -11.91L11.73 -12.06L11.15 -11.91L10.72 -11.48L10.56 -10.89L10.72 -10.31L11.15 -9.88L11.73 -9.73L12.32 -9.88L12.74 -10.31ZM13.54 -8.38L13.41 -8.87L13.06 -9.22L12.57 -9.35L12.08 -9.22L11.73 -8.87L11.60 -8.38L11.73 -7.89L12.08 -7.54L12.57 -7.40L13.06 -7.54L13.41 -7.89ZM13.47 -7.48L15.99 -9.99L14.18 -11.80L11.67 -9.28ZM15.63 -9.80L17.31 -10.64L16.21 -12.83L14.54 -11.99ZM16.76 -10.76L19.27 -10.76L19.27 -12.71L16.76 -12.71ZM18.73 -10.64L20.40 -9.80L21.50 -11.99L19.82 -12.83ZM19.84 -10.52L20.68 -8.01L22.90 -8.75L22.06 -11.26ZM20.81 -8.38L20.81 0.00L22.76 0.00L22.76 -8.38ZM16.31 -10.89L16.14 -11.51L15.70 -11.95L15.08 -12.12L14.47 -11.95L14.02 -11.51L13.86 -10.89L14.02 -10.28L14.47 -9.83L15.08 -9.67L15.70 -9.83L16.14 -10.28ZM17.73 -11.73L17.60 -12.22L17.25 -12.58L16.76 -12.71L16.27 -12.58L15.92 -12.22L15.78 -11.73L15.92 -11.24L16.27 -10.89L16.76 -10.76L17.25 -10.89L17.60 -11.24ZM20.25 -11.73L20.12 -12.22L19.76 -12.58L19.27 -12.71L18.79 -12.58L18.43 -12.22L18.30 -11.73L18.43 -11.24L18.79 -10.89L19.27 -10.76L19.76 -10.89L20.12 -11.24ZM22.12 -10.89L21.96 -11.48L21.53 -11.91L20.95 -12.06L20.37 -11.91L19.94 -11.48L19.78 -10.89L19.94 -10.31L20.37 -9.88L20.95 -9.73L21.53 -9.88L21.96 -10.31ZM22.76 -8.38L22.63 -8.87L22.28 -9.22L21.79 -9.35L21.30 -9.22L20.94 -8.87L20.81 -8.38L20.94 -7.89L21.30 -7.54L21.79 -7.40L22.28 -7.54L22.63 -7.89Z"/>
<path id="g110" d="M2.38 -11.73L2.38 0.00L4.33 0.00L4.33 -11.73ZM4.26 -7.48L6.77 -9.99L4.96 -11.80L2.45 -9.28ZM6.41 -9.80L8.09 -10.64L6.99 -12.83L5.32 -11.99ZM7.54 -10.76L10.06 -10.76L10.06 -12.71L7.54 -12.71ZM9.51 -10.64L11.18 -9.80L12.28 -11.99L10.60 -12.83ZM10.62 -10.52L11.46 -8.01L13.68 -8.75L12.84 -11.26ZM11.60 -8.38L11.60 0.00L13.54 0.00L13.54 -8.38ZM7.09 -10.89L6.93 -11.51L6.48 -11.95L5.87 -12.12L5.25 -11.95L4.81 -11.51L4.64 -10.89L4.81 -10.28L5.25 -9.83L5.87 -9.67L6.48 -9.83L6.93 -10.28ZM8.52 -11.73L8.39 -12.22L8.03 -12.58L7.54 -12.71L7.05 -12.58L6.70 -12.22L6.57 -11.73L6.70 -11.24L7.05 -10.89L7.54 -10.76L8.03 -10.89L8.39 -11.24ZM11.03 -11.73L10.90 -12.22L10.54 -12.58L10.06 -12.71L9.57 -12.58L9.21 -12.22L9.08 -11.73L9.21 -11.24L9.57 -10.89L10.06 -10.76L10.54 -10.89L10.90 -11.24ZM12.90 -10.89L12.74 -11.48L12.32 -11.91L11.73 -12.06L11.15 -11.91L10.72 -11.48L10.56 -10.89L10.72 -10.31L11.15 -9.88L11.73 -9.73L12.32 -9.88L12.74 -10.31ZM13.54 -8.38L13.41 -8.87L13.06 -9.22L12.57 -9.35L12.08 -9.22L11.73 -8.87L11.60 -8.38L11.73 -7.89L12.08 -7.54L12.57 -7.40L13.06 -7.54L13.41 -7.89Z"/>
<path id="g112" d="M2.38 -11.73L2.38 5.87L4.33 5.87L4.33 -11.73ZM4.26 -8.31L5.93 -9.99L4.12 -11.80L2.45 -10.12ZM5.58 -9.80L7.25 -10.64L6.16 -12.83L4.48 -11.99ZM6.70 -10.76L9.22 -10.76L9.22 -12.71L6.70 -12.71ZM8.67 -10.64L10.35 -9.80L11.44 -11.99L9.77 -12.83ZM9.99 -9.99L11.67 -8.31L13.47 -10.12L11.80 -11.80ZM11.46 -8.85L12.30 -6.33L14.52 -7.07L13.68 -9.59ZM12.43 -6.70L12.43 -5.03L14.38 -5.03L14.38 -6.70ZM12.30 -5.40L11.46 -2.88L13.68 -2.14L14.52 -4.66ZM11.67 -3.42L9.99 -1.74L11.80 0.07L13.47 -1.61ZM10.35 -1.93L8.67 -1.10L9.77 1.10L11.44 0.26ZM9.22 -0.97L6.70 -0.97L6.70 0.97L9.22 0.97ZM7.25 -1.10L5.58 -1.93L4.48 0.26L6.16 1.10ZM5.93 -1.74L4.26 -3.42L2.45 -1.61L4.12 0.07ZM6.25 -10.89L6.09 -11.51L5.64 -11.95L5.03 -12.12L4.42 -11.95L3.97 -11.51L3.80 -10.89L3.97 -10.28L4.42 -9.83L5.03 -9.67L5.64 -9.83L6.09 -10.28ZM7.68 -11.73L7.55 -12.22L7.19 -12.58L6.70 -12.71L6.22 -12.58L5.86 -12.22L5.73 -11.73L5.86 -11.24L6.22 -10.89L6.70 -10.76L7.19 -10.89L7.55 -11.24ZM10.19 -11.73L10.06 -12.22L9.71 -12.58L9.22 -12.71L8.73 -12.58L8.37 -12.22L8.24 -11.73L8.37 -11.24L8.73 -10.89L9.22 -10.76L9.71 -10.89L10.06 -11.24ZM12.12 -10.89L11.95 -11.51L11.51 -11.95L10.89 -12.12L10.28 -11.95L9.83 -11.51L9.67 -10.89L9.83 -10.28L10.28 -9.83L10.89 -9.67L11.51 -9.83L11.95 -10.28ZM13.74 -9.22L13.58 -9.80L13.15 -10.23L12.57 -10.39L11.99 -10.23L11.56 -9.80L11.40 -9.22L11.56 -8.63L11.99 -8.21L12.57 -8.05L13.15 -8.21L13.58 -8.63ZM14.38 -6.70L14.25 -7.19L13.90 -7.55L13.41 -7.68L12.92 -7.55L12.56 -7.19L12.43 -6.70L12.56 -6.22L12.92 -5.86L13.41 -5.73L13.90 -5.86L14.25 -6.22ZM14.38 -5.03L14.25 -5.52L13.90 -5.87L13.41 -6.00L12.92 -5.87L12.56 -5.52L12.43 -5.03L12.56 -4.54L12.92 -4.18L13.41 -4.05L13.90 -4.18L14.25 -4.54ZM13.74 -2.51L13.58 -3.10L13.15 -3.53L12.57 -3.68L11.99 -3.53L11.56 -3.10L11.40 -2.51L11.56 -1.93L11.99 -1.50L12.57 -1.35L13.15 -1.50L13.58 -1.93ZM12.12 -0.84L11.95 -1.45L11.51 -1.90L10.89 -2.06L10.28 -1.90L9.83 -1.45L9.67 -0.84L9.83 -0.23L10.28 0.22L10.89 0.39L11.51 0.22L11.95 -0.23ZM10.19 0.00L10.06 -0.49L9.71 -0.84L9.22 -0.97L8.73 -0.84L8.37 -0.49L8.24 -0.00L8.37 0.49L8.73 0.84L9.22 0.97L9.71 0.84L10.06 0.49ZM7.68 0.00L7.55 -0.49L7.19 -0.84L6.70 -0.97L6.22 -0.84L5.86 -0.49L5.73 -0.00L5.86 0.49L6.22 0.84L6.70 0.97L7.19 0.84L7.55 0.49ZM6.25 -0.84L6.09 -1.45L5.64 -1.90L5.03 -2.06L4.42 -1.90L3.97 -1.45L3.80 -0.84L3.97 -0.23L4.42 0.22L5.03 0.39L5.64 0.22L6.09 -0.23Z"/>
<path id="g114" d="M2.38 -11.73L2.38 0.00L4.33 0.00L4.33 -11.73ZM4.46 -6.33L5.30 -8.85L3.08 -9.59L2.24 -7.07ZM5.09 -8.31L6.77 -9.99L4.96 -11.80L3.29 -10.12ZM6.41 -9.80L8.09 -10.64L6.99 -12.83L5.32 -11.99ZM7.54 -10.76L10.06 -10.76L10.06 -12.71L7.54 -12.71ZM5.36 -9.22L5.20 -9.80L4.77 -10.23L4.19 -10.39L3.61 -10.23L3.18 -9.80L3.02 -9.22L3.18 -8.63L3.61 -8.21L4.19 -8.05L4.77 -8.21L5.20 -8.63ZM7.09 -10.89L6.93 -11.51L6.48 -11.95L5.87 -12.12L5.25 -11.95L4.81 -11.51L4.64 -10.89L4.81 -10.28L5.25 -9.83L5.87 -9.67L6.48 -9.83L6.93 -10.28ZM8.52 -11.73L8.39 -12.22L8.03 -12.58L7.54 -12.71L7.05 -12.58L6.70 -12.22L6.57 -11.73L6.70 -11.24L7.05 -10.89L7.54 -10.76L8.03 -10.89L8.39 -11.24Z"/>
<path id="g115" d="M12.83 -9.77L11.99 -11.44L9.80 -10.35L10.64 -8.67ZM11.26 -12.00L8.75 -12.84L8.01 -10.62L10.52 -9.79ZM8.38 -12.71L5.87 -12.71L5.87 -10.76L8.38 -10.76ZM5.50 -12.84L2.98 -12.00L3.72 -9.79L6.24 -10.62ZM2.26 -11.44L1.42 -9.77L3.61 -8.67L4.45 -10.35ZM1.42 -8.67L2.26 -6.99L4.45 -8.09L3.61 -9.77ZM2.80 -6.45L4.48 -5.61L5.58 -7.80L3.90 -8.64ZM4.81 -5.62L9.00 -4.78L9.43 -6.95L5.24 -7.79ZM8.67 -4.77L10.35 -3.93L11.44 -6.12L9.77 -6.96ZM9.80 -4.48L10.64 -2.80L12.83 -3.90L11.99 -5.58ZM10.76 -3.35L10.76 -2.51L12.71 -2.51L12.71 -3.35ZM10.64 -3.06L9.80 -1.39L11.99 -0.29L12.83 -1.97ZM10.52 -1.95L8.01 -1.11L8.75 1.11L11.26 0.27ZM8.38 -0.97L5.87 -0.97L5.87 0.97L8.38 0.97ZM6.24 -1.11L3.72 -1.95L2.98 0.27L5.50 1.11ZM4.45 -1.39L3.61 -3.06L1.42 -1.97L2.26 -0.29ZM12.06 -10.89L11.91 -11.48L11.48 -11.91L10.89 -12.06L10.31 -11.91L9.88 -11.48L9.73 -10.89L9.88 -10.31L10.31 -9.88L10.89 -9.73L11.48 -9.88L11.91 -10.31ZM9.35 -11.73L9.22 -12.22L8.87 -12.58L8.38 -12.71L7.89 -12.58L7.54 -12.22L7.40 -11.73L7.54 -11.24L7.89 -10.89L8.38 -10.76L8.87 -10.89L9.22 -11.24ZM6.84 -11.73L6.71 -12.22L6.35 -12.58L5.87 -12.71L5.38 -12.58L5.02 -12.22L4.89 -11.73L5.02 -11.24L5.38 -10.89L5.87 -10.76L6.35 -10.89L6.71 -11.24ZM4.52 -10.89L4.36 -11.48L3.94 -11.91L3.35 -12.06L2.77 -11.91L2.34 -11.48L2.18 -10.89L2.34 -10.31L2.77 -9.88L3.35 -9.73L3.94 -9.88L4.36 -10.31ZM3.74 -9.22L3.57 -9.83L3.13 -10.28L2.51 -10.44L1.90 -10.28L1.45 -9.83L1.29 -9.22L1.45 -8.61L1.90 -8.16L2.51 -7.99L3.13 -8.16L3.57 -8.61ZM4.58 -7.54L4.41 -8.15L3.96 -8.60L3.35 -8.77L2.74 -8.60L2.29 -8.15L2.13 -7.54L2.29 -6.93L2.74 -6.48L3.35 -6.32L3.96 -6.48L4.41 -6.93ZM6.13 -6.70L5.98 -7.26L5.58 -7.66L5.03 -7.81L4.48 -7.66L4.07 -7.26L3.92 -6.70L4.07 -6.15L4.48 -5.75L5.03 -5.60L5.58 -5.75L5.98 -6.15ZM10.32 -5.87L10.17 -6.42L9.77 -6.82L9.22 -6.97L8.67 -6.82L8.26 -6.42L8.11 -5.87L8.26 -5.31L8.67 -4.91L9.22 -4.76L9.77 -4.91L10.17 -5.31ZM12.12 -5.03L11.95 -5.64L11.51 -6.09L10.89 -6.25L10.28 -6.09L9.83 -5.64L9.67 -5.03L9.83 -4.42L10.28 -3.97L10.89 -3.80L11.51 -3.97L11.95 -4.42ZM12.71 -3.35L12.58 -3.84L12.22 -4.20L11.73 -4.33L11.24 -4.20L10.89 -3.84L10.76 -3.35L10.89 -2.86L11.24 -2.51L11.73 -2.38L12.22 -2.51L12.58 -2.86ZM12.71 -2.51L12.58 -3.00L12.22 -3.36L11.73 -3.49L11.24 -3.36L10.89 -3.00L10.76 -2.51L10.89 -2.03L11.24 -1.67L11.73 -1.54L12.22 -1.67L12.58 -2.03ZM12.06 -0.84L11.91 -1.42L11.48 -1.85L10.89 -2.01L10.31 -1.85L9.88 -1.42L9.73 -0.84L9.88 -0.25L10.31 0.17L10.89 0.33L11.48 0.17L11.91 -0.25ZM9.35 0.00L9.22 -0.49L8.87 -0.84L8.38 -0.97L7.89 -0.84L7.54 -0.49L7.40 -0.00L7.54 0.49L7.89 0.84L8.38 0.97L8.87 0.84L9.22 0.49ZM6.84 0.00L6.71 -0.49L6.35 -0.84L5.87 -0.97L5.38 -0.84L5.02 -0.49L4.89 -0.00L5.02 0.49L5.38 0.84L5.87 0.97L6.35 0.84L6.71 0.49ZM4.52 -0.84L4.36 -1.42L3.94 -1.85L3.35 -2.01L2.77 -1.85L2.34 -1.42L2.18 -0.84L2.34 -0.25L2.77 0.17L3.35 0.33L3.94 0.17L4.36 -0.25Z"/>
<path id="g116" d="M3.21 -17.60L3.21 -3.35L5.16 -3.35L5.16 -17.60ZM3.08 -2.98L3.92 -0.47L6.14 -1.21L5.30 -3.72ZM4.48 0.26L6.16 1.10L7.25 -1.10L5.58 -1.93ZM6.70 0.97L8.38 0.97L8.38 -0.97L6.70 -0.97ZM5.16 -3.35L5.03 -3.84L4.68 -4.20L4.19 -4.33L3.70 -4.20L3.35 -3.84L3.21 -3.35L3.35 -2.86L3.70 -2.51L4.19 -2.38L4.68 -2.51L5.03 -2.86ZM6.20 -0.84L6.04 -1.42L5.61 -1.85L5.03 -2.01L4.44 -1.85L4.02 -1.42L3.86 -0.84L4.02 -0.25L4.44 0.17L5.03 0.33L5.61 0.17L6.04 -0.25ZM7.68 0.00L7.55 -0.49L7.19 -0.84L6.70 -0.97L6.22 -0.84L5.86 -0.49L5.73 -0.00L5.86 0.49L6.22 0.84L6.70 0.97L7.19 0.84L7.55 0.49ZM1.68 -10.76L7.54 -10.76L7.54 -12.71L1.68 -12.71Z"/>
<path id="g117" d="M2.38 -11.73L2.38 -3.35L4.33 -3.35L4.33 -11.73ZM2.24 -2.98L3.08 -0.47L5.30 -1.21L4.46 -3.72ZM3.64 0.26L5.32 1.10L6.41 -1.10L4.74 -1.93ZM5.87 0.97L8.38 0.97L8.38 -0.97L5.87 -0.97ZM8.93 1.10L10.60 0.26L9.51 -1.93L7.83 -1.10ZM10.96 0.07L13.47 -2.45L11.67 -4.26L9.15 -1.74ZM4.33 -3.35L4.20 -3.84L3.84 -4.20L3.35 -4.33L2.86 -4.20L2.51 -3.84L2.38 -3.35L2.51 -2.86L2.86 -2.51L3.35 -2.38L3.84 -2.51L4.20 -2.86ZM5.36 -0.84L5.20 -1.42L4.77 -1.85L4.19 -2.01L3.61 -1.85L3.18 -1.42L3.02 -0.84L3.18 -0.25L3.61 0.17L4.19 0.33L4.77 0.17L5.20 -0.25ZM6.84 0.00L6.71 -0.49L6.35 -0.84L5.87 -0.97L5.38 -0.84L5.02 -0.49L4.89 -0.00L5.02 0.49L5.38 0.84L5.87 0.97L6.35 0.84L6.71 0.49ZM9.35 0.00L9.22 -0.49L8.87 -0.84L8.38 -0.97L7.89 -0.84L7.54 -0.49L7.40 -0.00L7.54 0.49L7.89 0.84L8.38 0.97L8.87 0.84L9.22 0.49ZM11.28 -0.84L11.12 -1.45L10.67 -1.90L10.06 -2.06L9.44 -1.90L9.00 -1.45L8.83 -0.84L9.00 -0.23L9.44 0.22L10.06 0.39L10.67 0.22L11.12 -0.23ZM11.60 -11.73L11.60 0.00L13.54 0.00L13.54 -11.73Z"/>
<path id="g122" d="M10.73 -12.52L1.51 -0.78L3.51 0.78L12.73 -10.95ZM2.51 -10.76L11.73 -10.76L11.73 -12.71L2.51 -12.71ZM2.51 0.97L11.73 0.97L11.73 -0.97L2.51 -0.97Z"/>
</defs>
<path d="M118.16 741.20V731.90M118.16 44.90V54.20M146.01 741.20V731.90M146.01 44.90V54.20M173.87 741.20V731.90M173.87 44.90V54.20M201.72 741.20V731.90M201.72 44.90V54.20M229.58 741.20V723.20M229.58 44.90V62.90M257.44 741.20V731.90M257.44 44.90V54.20M285.29 741.20V731.90M285.29 44.90V54.20M313.15 741.20V731.90M313.15 44.90V54.20M341.00 741.20V731.90M341.00 44.90V54.20M368.86 741.20V723.20M368.86 44.90V62.90M396.72 741.20V731.90M396.72 44.90V54.20M424.57 741.20V731.90M424.57 44.90V54.20M452.43 741.20V731.90M452.43 44.90V54.20M480.28 741.20V731.90M480.28 44.90V54.20M508.14 741.20V723.20M508.14 44.90V62.90M536.00 741.20V731.90M536.00 44.90V54.20M563.85 741.20V731.90M563.85 44.90V54.20M591.71 741.20V731.90M591.71 44.90V54.20M619.56 741.20V731.90M619.56 44.90V54.20M647.42 741.20V723.20M647.42 44.90V62.90M675.28 741.20V731.90M675.28 44.90V54.20M703.13 741.20V731.90M703.13 44.90V54.20M730.99 741.20V731.90M730.99 44.90V54.20M758.84 741.20V731.90M758.84 44.90V54.20M90.30 88.42H99.60M786.70 88.42H777.40M90.30 131.94H99.60M786.70 131.94H777.40M90.30 175.46H99.60M786.70 175.46H777.40M90.30 218.98H108.30M786.70 218.98H768.70M90.30 262.49H99.60M786.70 262.49H777.40M90.30 306.01H99.60M786.70 306.01H777.40M90.30 349.53H99.60M786.70 349.53H777.40M90.30 393.05H108.30M786.70 393.05H768.70M90.30 436.57H99.60M786.70 436.57H777.40M90.30 480.09H99.60M786.70 480.09H777.40M90.30 523.61H99.60M786.70 523.61H777.40M90.30 567.12H108.30M786.70 567.12H768.70M90.30 610.64H99.60M786.70 610.64H777.40M90.30 654.16H99.60M786.70 654.16H777.40M90.30 697.68H99.60M786.70 697.68H777.40" fill="none" stroke="#000" stroke-width="2.15" stroke-linecap="butt"/>
<rect x="90.3" y="44.9" width="696.40" height="696.30" fill="none" stroke="#000" stroke-width="2.15" stroke-linejoin="round"/>
<g clip-path="url(#pc)" stroke="none">
<path fill="#800080" d="M87.30 121.55L90.30 121.55L90.30 119.45L87.30 119.45ZM90.30 121.55L161.00 121.50L161.00 119.40L90.30 119.45ZM160.99 121.51L172.99 121.64L173.01 119.53L161.01 119.40ZM172.97 121.65L182.97 121.93L183.03 119.80L173.03 119.52ZM182.95 121.93L188.95 122.20L189.05 120.05L183.05 119.79ZM188.94 122.20L194.94 122.55L195.06 120.40L189.06 120.05ZM194.92 122.56L200.92 123.00L201.08 120.83L195.08 120.39ZM200.90 123.01L206.90 123.56L207.10 121.37L201.10 120.82ZM206.88 123.56L212.88 124.23L213.12 122.03L207.12 121.37ZM212.86 124.24L217.86 124.89L218.14 122.68L213.14 122.03ZM217.83 124.89L223.83 125.80L224.17 123.58L218.17 122.67ZM223.81 125.81L228.81 126.68L229.19 124.45L224.19 123.58ZM228.78 126.68L233.78 127.67L234.22 125.43L229.22 124.44ZM233.74 127.67L238.74 128.81L239.26 126.56L234.26 125.42ZM238.70 128.81L242.70 129.86L243.30 127.61L239.30 126.56ZM242.66 129.86L246.66 131.06L247.34 128.80L243.34 127.61ZM246.61 131.06L250.61 132.43L251.39 130.18L247.39 128.81ZM250.56 132.43L254.56 133.99L255.44 131.75L251.44 130.18ZM254.50 133.98L258.50 135.76L259.50 133.54L255.50 131.76ZM258.45 135.75L261.45 137.24L262.55 135.04L259.55 133.55ZM261.41 137.23L264.41 138.86L265.59 136.69L262.59 135.05ZM264.36 138.85L267.36 140.64L268.64 138.50L265.64 136.71ZM267.32 140.62L270.32 142.56L271.68 140.46L268.68 138.52ZM270.28 142.54L274.28 145.35L275.72 143.30L271.72 140.48ZM274.24 145.33L278.24 148.37L279.76 146.36L275.76 143.32ZM278.20 148.35L282.20 151.59L283.80 149.63L279.80 146.39ZM282.18 151.57L286.18 155.00L287.82 153.07L283.82 149.65ZM286.16 154.98L290.16 158.55L291.84 156.66L287.84 153.09ZM290.13 158.53L298.13 166.03L299.87 164.18L291.87 156.68ZM298.11 166.01L306.11 173.93L307.89 172.13L299.89 164.21ZM306.09 173.91L314.09 182.23L315.91 180.47L307.91 172.15ZM314.07 182.21L323.07 192.01L324.93 190.30L315.93 180.49ZM323.05 191.99L332.05 202.22L333.95 200.55L324.95 190.32ZM332.03 202.20L341.03 212.83L342.97 211.19L333.97 200.57ZM341.02 212.81L351.02 225.03L352.98 223.43L342.98 211.21ZM351.01 225.01L361.01 237.62L362.99 236.05L352.99 223.44ZM361.00 237.61L368.00 246.63L370.00 245.09L363.00 236.06ZM368.00 246.63L376.00 257.12L378.00 255.59L370.00 245.10ZM375.99 257.11L383.99 267.78L386.01 266.26L378.01 255.60ZM383.99 267.77L391.99 278.57L394.01 277.07L386.01 266.27ZM391.98 278.56L406.98 299.10L409.02 297.61L394.02 277.08ZM406.98 299.09L441.98 347.56L444.02 346.09L409.02 297.62ZM441.98 347.57L460.98 373.69L463.02 372.21L444.02 346.09ZM460.99 373.70L481.99 402.23L484.01 400.74L463.01 372.20ZM481.99 402.24L501.99 429.03L504.01 427.52L484.01 400.73ZM502.00 429.04L523.00 456.70L525.00 455.17L504.00 427.52ZM523.00 456.70L533.00 469.69L535.00 468.15L525.00 455.17ZM533.00 469.69L543.00 482.54L545.00 480.99L535.00 468.14ZM543.01 482.55L553.01 495.26L554.99 493.69L544.99 480.98ZM553.01 495.26L563.01 507.82L564.99 506.25L554.99 493.69ZM563.02 507.83L573.02 520.24L574.98 518.66L564.98 506.25ZM573.02 520.25L582.02 531.28L583.98 529.68L574.98 518.65ZM582.03 531.29L598.03 550.56L599.97 548.95L583.97 529.67ZM598.04 550.57L614.04 569.43L615.96 567.80L599.96 548.93ZM614.04 569.44L631.04 589.09L632.96 587.43L615.96 567.79ZM631.05 589.10L650.05 610.66L651.95 608.98L632.95 587.42ZM650.06 610.66L666.06 628.55L667.94 626.86L651.94 608.97ZM666.06 628.56L684.06 648.46L685.94 646.77L667.94 626.86ZM684.06 648.47L746.06 716.33L747.94 714.62L685.94 646.76ZM746.06 716.33L769.46 742.11L771.34 740.40L747.94 714.62ZM769.46 742.11L781.16 755.00L783.04 753.29L771.34 740.40Z"/>
<path fill="#553055" d="M87.30 109.95L90.30 109.95L90.30 107.85L87.30 107.85ZM90.30 109.95L162.00 109.99L162.00 107.89L90.30 107.85ZM161.99 110.00L179.99 110.20L180.01 108.09L162.01 107.88ZM179.97 110.21L194.97 110.58L195.03 108.45L180.03 108.08ZM194.96 110.58L203.96 110.92L204.04 108.78L195.04 108.45ZM203.95 110.92L212.95 111.36L213.05 109.21L204.05 108.78ZM212.94 111.36L220.94 111.84L221.06 109.68L213.06 109.20ZM220.92 111.85L228.92 112.42L229.08 110.26L221.08 109.68ZM228.91 112.43L236.91 113.11L237.09 110.94L229.09 110.25ZM236.89 113.12L242.89 113.73L243.11 111.54L237.11 110.93ZM242.86 113.73L248.86 114.48L249.14 112.27L243.14 111.53ZM248.83 114.49L253.83 115.26L254.17 113.04L249.17 112.27ZM253.79 115.26L258.79 116.20L259.21 113.97L254.21 113.03ZM258.75 116.21L262.75 117.11L263.25 114.86L259.25 113.96ZM262.70 117.11L267.70 118.44L268.30 116.19L263.30 114.85ZM267.65 118.44L271.65 119.70L272.35 117.44L268.35 116.19ZM271.59 119.70L275.59 121.14L276.41 118.89L272.41 117.44ZM275.54 121.13L279.54 122.78L280.46 120.54L276.46 118.89ZM279.48 122.77L283.48 124.63L284.52 122.42L280.52 120.55ZM283.43 124.62L286.43 126.18L287.57 123.99L284.57 122.43ZM286.38 126.16L290.38 128.46L291.62 126.30L287.62 124.01ZM290.33 128.44L293.33 130.34L294.67 128.23L291.67 126.33ZM293.29 130.32L296.29 132.37L297.71 130.30L294.71 128.25ZM296.25 132.35L300.25 135.33L301.75 133.31L297.75 130.33ZM300.21 135.30L303.21 137.71L304.79 135.74L301.79 133.33ZM303.17 137.69L307.17 141.13L308.83 139.22L304.83 135.77ZM307.14 141.10L311.14 144.82L312.86 142.96L308.86 139.25ZM311.11 144.79L315.11 148.76L316.89 146.96L312.89 142.99ZM315.08 148.72L320.08 154.05L321.92 152.31L316.92 146.99ZM320.05 154.02L324.05 158.59L325.95 156.92L321.95 152.35ZM324.02 158.56L328.02 163.42L329.98 161.82L325.98 156.95ZM328.00 163.39L332.00 168.57L334.00 167.03L330.00 161.85ZM331.98 168.54L335.98 174.03L338.02 172.55L334.02 167.06ZM335.97 174.00L340.97 181.24L343.03 179.81L338.03 172.58ZM340.95 181.22L345.95 188.81L348.05 187.43L343.05 179.84ZM345.95 188.79L350.95 196.66L353.05 195.32L348.05 187.45ZM350.94 196.64L358.94 209.73L361.06 208.42L353.06 195.34ZM358.93 209.71L368.93 226.65L371.07 225.39L361.07 208.44ZM368.92 226.64L379.92 245.68L382.08 244.43L371.08 225.40ZM379.92 245.67L410.92 299.65L413.08 298.42L382.08 244.44ZM410.93 299.66L428.93 330.60L431.07 329.35L413.07 298.41ZM428.93 330.61L445.93 359.39L448.07 358.13L431.07 329.35ZM445.93 359.40L462.93 387.73L465.07 386.45L448.07 358.12ZM462.94 387.73L473.94 405.81L476.06 404.51L465.06 386.44ZM473.94 405.82L483.94 422.07L486.06 420.76L476.06 404.51ZM483.94 422.08L494.94 439.75L497.06 438.43L486.06 420.76ZM494.94 439.76L504.94 455.64L507.06 454.31L497.06 438.43ZM504.95 455.64L515.95 472.90L518.05 471.55L507.05 454.30ZM515.95 472.90L525.95 488.39L528.05 487.03L518.05 471.55ZM525.95 488.39L535.95 503.68L538.05 502.31L528.05 487.02ZM535.96 503.69L545.96 518.78L548.04 517.39L538.04 502.30ZM545.96 518.78L554.96 532.19L557.04 530.79L548.04 517.39ZM554.96 532.20L563.96 545.43L566.04 544.02L557.04 530.78ZM563.97 545.44L572.97 558.50L575.03 557.08L566.03 544.01ZM572.97 558.51L580.97 569.98L583.03 568.55L575.03 557.07ZM580.97 569.99L589.97 582.73L592.03 581.28L583.03 568.54ZM589.98 582.74L598.98 595.31L601.02 593.85L592.02 581.28ZM598.98 595.32L607.98 607.72L610.02 606.25L601.02 593.84ZM607.99 607.73L615.99 618.61L618.01 617.12L610.01 606.24ZM615.99 618.62L629.99 637.33L632.01 635.83L618.01 617.11ZM630.00 637.35L645.00 656.98L647.00 655.44L632.00 635.81ZM645.00 656.98L659.00 675.03L661.00 673.49L647.00 655.44ZM659.01 675.04L694.01 719.84L695.99 718.28L660.99 673.48ZM694.00 719.83L711.10 742.00L713.10 740.46L696.00 718.29ZM711.10 742.00L719.65 753.08L721.65 751.54L713.10 740.46Z"/>
<path fill="#4b0082" d="M87.30 102.65L90.30 102.65L90.30 100.55L87.30 100.55ZM90.30 102.65L162.00 102.60L162.00 100.50L90.30 100.55ZM162.00 102.60L178.00 102.64L178.00 100.54L162.00 100.50ZM177.99 102.65L197.99 102.89L198.01 100.78L178.01 100.53ZM197.97 102.90L215.97 103.41L216.03 101.28L198.03 100.77ZM215.95 103.41L225.95 103.84L226.05 101.70L216.05 101.27ZM225.94 103.85L235.94 104.40L236.06 102.25L226.06 101.69ZM235.92 104.41L245.92 105.11L246.08 102.94L236.08 102.24ZM245.91 105.11L254.91 105.88L255.09 103.70L246.09 102.94ZM254.89 105.88L263.89 106.78L264.11 104.60L255.11 103.69ZM263.87 106.79L272.87 107.84L273.13 105.64L264.13 104.59ZM272.85 107.85L279.85 108.81L280.15 106.60L273.15 105.64ZM279.82 108.82L286.82 109.96L287.18 107.73L280.18 106.59ZM286.78 109.96L292.78 111.12L293.22 108.88L287.22 107.73ZM292.75 111.12L298.75 112.48L299.25 110.23L293.25 108.88ZM298.70 112.48L304.70 114.06L305.30 111.80L299.30 110.22ZM304.66 114.06L309.66 115.58L310.34 113.32L305.34 111.80ZM309.61 115.57L315.61 117.65L316.39 115.40L310.39 113.32ZM315.56 117.65L320.56 119.62L321.44 117.38L316.44 115.41ZM320.51 119.62L325.51 121.83L326.49 119.60L321.49 117.39ZM325.46 121.82L330.46 124.28L331.54 122.08L326.54 119.61ZM330.41 124.26L335.41 126.99L336.59 124.82L331.59 122.09ZM335.36 126.97L340.36 129.98L341.64 127.84L336.64 124.84ZM340.31 129.96L345.31 133.25L346.69 131.16L341.69 127.87ZM345.27 133.23L349.27 136.09L350.73 134.04L346.73 131.19ZM349.23 136.07L354.23 139.92L355.77 137.93L350.77 134.07ZM354.19 139.89L359.19 144.08L360.81 142.14L355.81 137.95ZM359.15 144.05L364.15 148.58L365.85 146.70L360.85 142.17ZM364.12 148.55L368.12 152.42L369.88 150.59L365.88 146.73ZM368.09 152.39L372.09 156.49L373.91 154.71L369.91 150.62ZM372.07 156.46L375.07 159.68L376.93 157.96L373.93 154.74ZM375.06 159.66L378.06 163.01L379.94 161.32L376.94 157.97ZM378.04 163.00L381.04 166.48L382.96 164.82L379.96 161.34ZM381.03 166.46L384.03 170.07L385.97 168.46L382.97 164.84ZM384.01 170.05L387.01 173.80L388.99 172.23L385.99 168.48ZM387.00 173.79L390.00 177.67L392.00 176.13L389.00 172.24ZM389.99 177.65L392.99 181.67L395.01 180.17L392.01 176.15ZM392.98 181.65L398.98 190.07L401.02 188.61L395.02 180.19ZM398.96 190.04L405.96 200.41L408.04 199.01L401.04 188.64ZM405.95 200.39L412.95 211.24L415.05 209.89L408.05 199.03ZM412.94 211.22L420.94 224.09L423.06 222.77L415.06 209.91ZM420.93 224.08L427.93 235.67L430.07 234.38L423.07 222.79ZM427.93 235.66L435.93 249.21L438.07 247.94L430.07 234.39ZM435.92 249.20L443.92 263.02L446.08 261.78L438.08 247.95ZM443.92 263.01L452.92 278.85L455.08 277.62L446.08 261.79ZM452.92 278.84L461.92 294.92L464.08 293.70L455.08 277.63ZM461.92 294.91L470.92 311.18L473.08 309.98L464.08 293.71ZM470.91 311.17L514.91 391.71L517.09 390.53L473.09 309.99ZM514.92 391.72L526.92 413.48L529.08 412.28L517.08 390.52ZM526.92 413.48L538.92 435.04L541.08 433.83L529.08 412.28ZM538.92 435.05L552.92 459.90L555.08 458.69L541.08 433.83ZM552.92 459.91L565.92 482.68L568.08 481.45L555.08 458.68ZM565.92 482.69L578.92 505.13L581.08 503.89L568.08 481.45ZM578.93 505.14L590.93 525.50L593.07 524.24L581.07 503.88ZM590.93 525.51L597.93 537.20L600.07 535.92L593.07 524.23ZM597.93 537.21L604.93 548.74L607.07 547.45L600.07 535.91ZM604.94 548.75L618.94 571.33L621.06 570.02L607.06 547.44ZM618.94 571.34L629.94 588.74L632.06 587.41L621.06 570.01ZM629.95 588.75L681.95 670.49L684.05 669.15L632.05 587.41ZM681.95 670.50L695.95 692.27L698.05 690.91L684.05 669.15ZM695.95 692.27L707.95 710.61L710.05 709.24L698.05 690.90ZM707.96 710.62L718.96 727.06L721.04 725.67L710.04 709.23ZM718.97 727.08L729.17 741.94L731.23 740.52L721.03 725.66ZM729.17 741.94L734.27 749.37L736.33 747.95L731.23 740.52Z"/>
<path fill="#0000ff" d="M87.30 102.15L90.30 102.15L90.30 100.05L87.30 100.05ZM90.30 102.15L298.00 102.16L298.00 100.06L90.30 100.05ZM297.97 102.18L301.97 102.29L302.03 100.16L298.03 100.05ZM301.94 102.30L305.94 102.51L306.06 100.36L302.06 100.15ZM305.91 102.52L309.91 102.84L310.09 100.67L306.09 100.35ZM309.88 102.85L312.88 103.18L313.12 100.99L310.12 100.66ZM312.84 103.19L317.84 103.94L318.16 101.72L313.16 100.98ZM317.80 103.94L326.80 105.59L327.20 103.36L318.20 101.71ZM326.82 105.59L330.82 106.23L331.18 104.01L327.18 103.36ZM330.87 106.22L335.87 106.80L336.13 104.60L331.13 104.02ZM335.91 106.79L343.91 107.47L344.09 105.29L336.09 104.61ZM343.89 107.47L347.89 107.87L348.11 105.69L344.11 105.28ZM347.86 107.88L351.86 108.41L352.14 106.20L348.14 105.68ZM351.82 108.42L356.82 109.22L357.18 107.00L352.18 106.19ZM356.79 109.23L361.79 110.18L362.21 107.94L357.21 106.99ZM361.76 110.18L366.76 111.24L367.24 108.99L362.24 107.94ZM366.74 111.24L384.74 115.40L385.26 113.15L367.26 108.99ZM384.75 115.40L391.75 116.95L392.25 114.70L385.25 113.15ZM391.78 116.94L398.78 118.30L399.22 116.06L392.22 114.70ZM398.82 118.30L408.82 119.92L409.18 117.69L399.18 116.07ZM408.80 119.92L412.80 120.63L413.20 118.40L409.20 117.69ZM412.76 120.64L416.76 121.50L417.24 119.25L413.24 118.39ZM416.70 121.50L420.70 122.58L421.30 120.32L417.30 119.25ZM420.63 122.58L423.63 123.56L424.37 121.31L421.37 120.32ZM423.58 123.56L425.58 124.31L426.42 122.06L424.42 121.31ZM425.53 124.30L428.53 125.57L429.47 123.33L426.47 122.07ZM428.48 125.56L430.48 126.50L431.52 124.28L429.52 123.34ZM430.43 126.48L433.43 128.04L434.57 125.85L431.57 124.29ZM433.39 128.02L435.39 129.16L436.61 127.01L434.61 125.87ZM435.33 129.14L439.33 131.67L440.67 129.56L436.67 127.03ZM439.28 131.64L442.28 133.76L443.72 131.70L440.72 129.59ZM442.24 133.73L444.24 135.26L445.76 133.25L443.76 131.73ZM444.19 135.23L448.19 138.54L449.81 136.59L445.81 133.28ZM448.14 138.50L452.14 142.17L453.86 140.31L449.86 136.63ZM452.11 142.14L454.11 144.12L455.89 142.31L453.89 140.34ZM454.09 144.09L457.09 147.22L458.91 145.46L455.91 142.34ZM457.06 147.18L462.06 152.76L463.94 151.07L458.94 145.49ZM462.03 152.72L468.03 159.92L469.97 158.30L463.97 151.10ZM468.01 159.89L475.01 168.80L476.99 167.24L469.99 158.33ZM474.99 168.78L481.99 178.05L484.01 176.53L477.01 167.26ZM481.98 178.02L486.98 184.94L489.02 183.47L484.02 176.55ZM486.96 184.91L491.96 192.23L494.04 190.82L489.04 183.50ZM491.95 192.20L495.95 198.45L498.05 197.10L494.05 190.85ZM495.93 198.42L499.93 205.09L502.07 203.81L498.07 197.14ZM499.92 205.06L502.92 210.39L505.08 209.18L502.08 203.85ZM502.91 210.36L506.91 217.94L509.09 216.78L505.09 209.21ZM506.90 217.91L510.90 225.99L513.10 224.90L509.10 216.82ZM510.89 225.96L514.89 234.52L517.11 233.49L513.11 224.93ZM514.89 234.50L518.89 243.51L521.11 242.53L517.11 233.51ZM518.88 243.49L522.88 252.94L525.12 251.99L521.12 242.55ZM522.88 252.92L526.88 262.76L529.12 261.84L525.12 252.01ZM526.88 262.74L531.88 275.52L534.12 274.65L529.12 261.86ZM531.88 275.51L535.88 286.08L538.12 285.23L534.12 274.66ZM535.87 286.07L538.87 294.21L541.13 293.38L538.13 285.24ZM538.87 294.19L540.87 299.96L543.13 299.18L541.13 293.41ZM540.87 299.93L542.87 306.24L545.13 305.52L543.13 299.22ZM542.87 306.21L544.87 313.05L547.13 312.39L545.13 305.55ZM544.87 313.04L546.87 320.29L549.13 319.66L547.13 312.41ZM546.87 320.27L555.87 354.49L558.13 353.90L549.13 319.68ZM555.87 354.50L562.87 380.43L565.13 379.82L558.13 353.89ZM562.87 380.44L568.87 401.92L571.13 401.29L565.13 379.81ZM568.87 401.93L573.87 419.27L576.13 418.61L571.13 401.28ZM573.87 419.28L578.87 436.06L581.13 435.39L576.13 418.60ZM578.87 436.08L582.87 449.09L585.13 448.39L581.13 435.38ZM582.87 449.10L595.87 489.78L598.13 489.06L585.13 448.38ZM595.87 489.77L605.87 521.65L608.13 520.94L598.13 489.06ZM605.87 521.67L607.87 527.70L610.13 526.95L608.13 520.92ZM607.87 527.72L610.87 536.28L613.13 535.49L610.13 526.93ZM610.88 536.31L619.88 560.54L622.12 559.71L613.12 535.47ZM619.87 560.53L623.87 571.76L626.13 570.96L622.13 559.73ZM623.87 571.73L626.87 580.80L629.13 580.06L626.13 570.98ZM626.87 580.78L628.87 587.26L631.13 586.57L629.13 580.08ZM628.87 587.25L631.87 597.37L634.13 596.70L631.13 586.58ZM631.87 597.40L633.87 603.52L636.13 602.79L634.13 596.66ZM633.87 603.57L635.87 609.02L638.13 608.20L636.13 602.74ZM635.88 609.05L641.88 624.15L644.12 623.26L638.12 608.16ZM641.87 624.11L643.87 629.65L646.13 628.83L644.13 623.30ZM643.87 629.60L645.87 635.82L648.13 635.09L646.13 628.88ZM645.87 635.79L649.87 649.15L652.13 648.48L648.13 635.12ZM649.87 649.17L650.87 652.31L653.13 651.59L652.13 648.45ZM650.87 652.35L652.87 658.03L655.13 657.24L653.13 651.56ZM652.88 658.08L653.88 660.64L656.12 659.77L655.12 657.20ZM653.88 660.68L655.88 665.38L658.12 664.43L656.12 659.73ZM655.90 665.43L658.90 671.67L661.10 670.60L658.10 664.37ZM658.91 671.71L666.91 686.93L669.09 685.78L661.09 670.56ZM666.92 686.96L668.92 690.51L671.08 689.30L669.08 685.74ZM668.93 690.55L671.93 695.52L674.07 694.24L671.07 689.26ZM671.91 695.47L672.91 697.30L675.09 696.12L674.09 694.29ZM672.90 697.24L673.90 699.32L676.10 698.26L675.10 696.18ZM673.88 699.25L674.88 701.68L677.12 700.76L676.12 698.33ZM674.87 701.61L675.87 704.49L678.13 703.71L677.13 700.83ZM675.87 704.43L676.87 707.86L679.13 707.20L678.13 703.77ZM676.87 707.80L677.87 711.87L680.13 711.32L679.13 707.25ZM677.88 711.83L681.88 730.96L684.12 730.49L680.12 711.36ZM681.87 731.00L682.87 735.11L685.13 734.56L684.13 730.45ZM682.87 735.15L684.67 741.52L686.93 740.88L685.13 734.51ZM684.67 741.52L685.57 744.70L687.83 744.06L686.93 740.88ZM422.17 121.45L422.01 120.86L421.58 120.44L421.00 120.28L420.42 120.44L419.99 120.86L419.83 121.45L419.99 122.03L420.42 122.46L421.00 122.62L421.58 122.46L422.01 122.03ZM676.21 698.79L676.05 698.19L675.61 697.74L675.00 697.58L674.39 697.74L673.95 698.19L673.79 698.79L673.95 699.40L674.39 699.84L675.00 700.00L675.61 699.84L676.05 699.40ZM677.19 701.22L677.03 700.63L676.60 700.19L676.00 700.03L675.40 700.19L674.97 700.63L674.81 701.22L674.97 701.82L675.40 702.26L676.00 702.42L676.60 702.26L677.03 701.82Z"/>
<path fill="#00cd00" d="M87.30 177.95L90.30 177.95L90.30 175.85L87.30 175.85ZM90.30 177.95L387.00 177.97L387.00 175.87L90.30 175.85ZM386.96 177.99L393.96 178.27L394.04 176.13L387.04 175.85ZM393.92 178.29L397.92 178.59L398.08 176.42L394.08 176.12ZM397.89 178.60L400.89 178.91L401.11 176.72L398.11 176.41ZM400.86 178.92L403.86 179.31L404.14 177.11L401.14 176.71ZM403.83 179.32L407.83 179.95L408.17 177.72L404.17 177.10ZM407.78 179.95L415.78 181.49L416.22 179.25L408.22 177.72ZM415.75 181.50L422.75 183.05L423.25 180.80L416.25 179.25ZM422.74 183.05L449.74 189.28L450.26 187.03L423.26 180.80ZM449.72 189.28L458.72 191.51L459.28 189.25L450.28 187.03ZM458.69 191.51L465.69 193.41L466.31 191.15L459.31 189.25ZM465.66 193.41L472.66 195.52L473.34 193.26L466.34 191.15ZM472.62 195.52L478.62 197.53L479.38 195.27L473.38 193.26ZM478.58 197.53L484.58 199.76L485.42 197.51L479.42 195.28ZM484.54 199.75L490.54 202.25L491.46 200.01L485.46 197.52ZM490.49 202.24L494.49 204.06L495.51 201.84L491.51 200.02ZM494.47 204.05L504.47 208.85L505.53 206.64L495.53 201.84ZM504.50 208.86L507.50 210.21L508.50 207.98L505.50 206.64ZM507.54 210.21L510.54 211.45L511.46 209.21L508.46 207.97ZM510.58 211.46L516.58 213.68L517.42 211.43L511.42 209.21ZM516.62 213.68L528.62 217.70L529.38 215.45L517.38 211.42ZM528.60 217.70L532.60 219.11L533.40 216.86L529.40 215.45ZM532.57 219.11L537.57 221.04L538.43 218.80L533.43 216.86ZM537.51 221.03L541.51 222.78L542.49 220.56L538.49 218.81ZM541.46 222.77L544.46 224.24L545.54 222.03L542.54 220.57ZM544.42 224.23L546.42 225.29L547.58 223.11L545.58 222.04ZM546.38 225.27L549.38 227.01L550.62 224.86L547.62 223.12ZM549.33 226.99L551.33 228.25L552.67 226.14L550.67 224.87ZM551.30 228.23L553.30 229.58L554.70 227.51L552.70 226.15ZM553.26 229.56L555.26 231.01L556.74 228.98L554.74 227.53ZM555.23 230.99L557.23 232.55L558.77 230.55L556.77 229.00ZM557.19 232.52L560.19 235.03L561.81 233.09L558.81 230.58ZM560.16 235.00L563.16 237.69L564.84 235.80L561.84 233.11ZM563.13 237.66L567.13 241.44L568.87 239.60L564.87 235.82ZM567.11 241.42L577.11 251.32L578.89 249.52L568.89 239.62ZM577.09 251.30L590.09 264.66L591.91 262.89L578.91 249.53ZM590.07 264.63L593.07 267.91L594.93 266.19L591.93 262.92ZM593.04 267.87L595.04 270.20L596.96 268.55L594.96 266.22ZM595.02 270.17L597.02 272.62L598.98 271.03L596.98 268.57ZM597.00 272.59L600.00 276.51L602.00 274.97L599.00 271.06ZM599.98 276.48L601.98 279.24L604.02 277.76L602.02 275.00ZM601.97 279.21L604.97 283.57L607.03 282.15L604.03 277.79ZM604.95 283.54L606.95 286.59L609.05 285.21L607.05 282.17ZM606.94 286.57L609.94 291.33L612.06 290.00L609.06 285.24ZM609.93 291.30L614.93 299.75L617.07 298.48L612.07 290.03ZM614.92 299.72L617.92 305.07L620.08 303.85L617.08 298.51ZM617.91 305.04L621.91 312.47L624.09 311.30L620.09 303.87ZM621.91 312.45L625.91 320.20L628.09 319.07L624.09 311.32ZM625.90 320.18L629.90 328.21L632.10 327.11L628.10 319.08ZM629.90 328.20L633.90 336.48L636.10 335.41L632.10 327.13ZM633.89 336.47L638.89 347.14L641.11 346.10L636.11 335.43ZM638.89 347.13L642.89 355.88L645.11 354.86L641.11 346.11ZM642.89 355.87L647.89 367.04L650.11 366.04L645.11 354.87ZM647.88 367.02L654.88 383.23L657.12 382.26L650.12 366.06ZM654.88 383.21L658.88 392.87L661.12 391.94L657.12 382.28ZM658.88 392.86L661.88 400.34L664.12 399.44L661.12 391.96ZM661.88 400.33L664.88 408.04L667.12 407.16L664.12 399.45ZM664.88 408.02L667.88 415.98L670.12 415.14L667.12 407.18ZM667.87 415.97L670.87 424.21L673.13 423.39L670.13 415.15ZM670.87 424.20L673.87 432.80L676.13 432.01L673.13 423.41ZM673.87 432.78L676.87 441.87L679.13 441.13L676.13 432.03ZM676.87 441.85L679.87 451.59L682.13 450.89L679.13 441.15ZM679.87 451.56L682.87 462.07L685.13 461.43L682.13 450.92ZM682.87 462.05L685.87 473.48L688.13 472.89L685.13 461.46ZM685.87 473.46L687.87 481.67L690.13 481.12L688.13 472.91ZM687.88 481.65L690.88 494.87L693.12 494.36L690.12 481.14ZM690.88 494.85L693.88 509.10L696.12 508.62L693.12 494.38ZM693.88 509.08L696.88 524.28L699.12 523.84L696.12 508.64ZM696.88 524.27L700.88 545.89L703.12 545.47L699.12 523.85ZM700.88 545.87L704.88 568.87L707.12 568.49L703.12 545.49ZM704.89 568.86L708.89 593.06L711.11 592.70L707.11 568.50ZM708.89 593.06L716.89 642.69L719.11 642.33L711.11 592.70ZM716.89 642.70L719.89 660.38L722.11 660.00L719.11 642.32ZM719.88 660.39L728.88 712.15L731.12 711.76L722.12 660.00ZM728.89 712.14L730.89 724.23L733.11 723.86L731.11 711.77ZM730.89 724.22L733.59 741.37L735.81 741.02L733.11 723.87ZM733.59 741.37L734.94 749.94L737.16 749.59L735.81 741.02Z"/>
<path fill="#8b0000" d="M87.30 133.15L90.30 133.15L90.30 131.05L87.30 131.05ZM90.30 133.15L520.00 133.17L520.00 131.07L90.30 131.05ZM519.92 133.20L524.92 133.55L525.08 131.39L520.08 131.04ZM524.87 133.57L527.87 133.93L528.13 131.73L525.13 131.37ZM527.82 133.95L529.82 134.26L530.18 132.04L528.18 131.72ZM529.77 134.27L532.77 134.88L533.23 132.64L530.23 132.03ZM532.72 134.89L534.72 135.39L535.28 133.14L533.28 132.63ZM534.67 135.39L536.67 135.98L537.33 133.72L535.33 133.14ZM536.62 135.98L538.62 136.65L539.38 134.40L537.38 133.72ZM538.56 136.65L541.56 137.84L542.44 135.59L539.44 134.40ZM541.49 137.82L544.49 139.20L545.51 136.98L542.51 135.61ZM544.44 139.19L547.44 140.73L548.56 138.54L545.56 137.00ZM547.39 140.72L551.39 142.98L552.61 140.82L548.61 138.56ZM551.34 142.96L558.34 147.29L559.66 145.17L552.66 140.84ZM558.32 147.28L574.32 157.70L575.68 155.60L559.68 145.19ZM574.29 157.69L582.29 163.16L583.71 161.09L575.71 155.62ZM582.26 163.14L589.26 168.24L590.74 166.21L583.74 161.11ZM589.23 168.22L594.23 172.09L595.77 170.10L590.77 166.23ZM594.21 172.08L604.21 180.16L605.79 178.20L595.79 170.11ZM604.23 180.18L609.23 184.01L610.77 182.01L605.77 178.18ZM609.28 184.04L613.28 186.83L614.72 184.77L610.72 181.98ZM613.34 186.86L616.34 188.72L617.66 186.60L614.66 184.74ZM616.41 188.75L619.41 190.36L620.59 188.19L617.59 186.57ZM619.49 190.38L621.49 191.31L622.51 189.09L620.51 188.17ZM621.56 191.32L623.56 192.10L624.44 189.86L622.44 189.07ZM623.64 192.11L625.64 192.74L626.36 190.48L624.36 189.85ZM625.72 192.74L627.72 193.24L628.28 190.98L626.28 190.48ZM627.79 193.23L630.79 193.78L631.21 191.55L628.21 190.99ZM630.86 193.77L633.86 194.16L634.14 191.96L631.14 191.56ZM633.88 194.16L641.88 195.02L642.12 192.83L634.12 191.96ZM641.83 195.04L643.83 195.34L644.17 193.12L642.17 192.82ZM643.78 195.35L645.78 195.74L646.22 193.50L644.22 193.11ZM645.72 195.75L647.72 196.24L648.28 193.99L646.28 193.49ZM647.65 196.24L649.65 196.87L650.35 194.61L648.35 193.98ZM649.58 196.86L651.58 197.60L652.42 195.35L650.42 194.61ZM651.51 197.59L654.51 198.90L655.49 196.67L652.49 195.36ZM654.46 198.89L656.46 199.86L657.54 197.66L655.54 196.68ZM656.43 199.85L659.43 201.43L660.57 199.25L657.57 197.67ZM659.39 201.42L671.39 208.18L672.61 206.02L660.61 199.26ZM671.37 208.17L676.37 211.09L677.63 208.94L672.63 206.02ZM676.33 211.07L681.33 214.23L682.67 212.12L677.67 208.96ZM681.28 214.21L685.28 217.02L686.72 214.96L682.72 212.15ZM685.22 216.98L689.22 220.13L690.78 218.15L686.78 215.00ZM689.17 220.09L692.17 222.72L693.83 220.81L690.83 218.19ZM692.12 222.68L696.12 226.52L697.88 224.69L693.88 220.85ZM696.09 226.49L699.09 229.58L700.91 227.81L697.91 224.72ZM699.07 229.56L702.07 232.78L703.93 231.06L700.93 227.83ZM702.06 232.76L709.06 240.61L710.94 238.92L703.94 231.08ZM709.04 240.58L714.04 246.44L715.96 244.80L710.96 238.94ZM714.01 246.41L719.01 252.64L720.99 251.06L715.99 244.83ZM718.99 252.61L721.99 256.59L724.01 255.07L721.01 251.09ZM721.98 256.57L723.98 259.34L726.02 257.87L724.02 255.10ZM723.96 259.31L727.96 265.20L730.04 263.79L726.04 257.90ZM727.94 265.15L731.94 271.54L734.06 270.22L730.06 263.83ZM731.93 271.51L735.93 278.35L738.07 277.10L734.07 270.25ZM735.92 278.33L740.92 287.32L743.08 286.12L738.08 277.12ZM740.91 287.31L757.91 318.69L760.09 317.51L743.09 286.13ZM757.91 318.66L762.91 328.32L765.09 327.19L760.09 317.53ZM762.90 328.30L765.90 334.39L768.10 333.31L765.10 327.21ZM765.89 334.37L767.89 338.60L770.11 337.55L768.11 333.33ZM767.89 338.57L770.89 345.19L773.11 344.18L770.11 337.57ZM770.88 345.17L772.88 349.79L775.12 348.83L773.12 344.20ZM772.88 349.77L776.88 359.61L779.12 358.69L775.12 348.86ZM776.88 359.58L778.88 364.83L781.12 363.97L779.12 358.72ZM778.87 364.81L780.87 370.30L783.13 369.48L781.13 363.99ZM780.87 370.28L782.87 376.04L785.13 375.25L783.13 369.50ZM782.87 376.02L785.57 384.23L787.83 383.49L785.13 375.28ZM785.57 384.23L786.92 388.33L789.18 387.59L787.83 383.49ZM521.05 132.12L520.91 131.60L520.53 131.21L520.00 131.07L519.47 131.21L519.09 131.60L518.95 132.12L519.09 132.65L519.47 133.03L520.00 133.17L520.53 133.03L520.91 132.65ZM543.21 136.71L543.04 136.11L542.60 135.67L542.00 135.51L541.40 135.67L540.96 136.11L540.79 136.71L540.96 137.32L541.40 137.76L542.00 137.92L542.60 137.76L543.04 137.32ZM615.25 185.80L615.08 185.17L614.62 184.72L614.00 184.55L613.38 184.72L612.92 185.17L612.75 185.80L612.92 186.42L613.38 186.88L614.00 187.05L614.62 186.88L615.08 186.42ZM618.24 187.66L618.07 187.04L617.62 186.59L617.00 186.42L616.38 186.59L615.93 187.04L615.76 187.66L615.93 188.28L616.38 188.73L617.00 188.89L617.62 188.73L618.07 188.28ZM621.22 189.27L621.06 188.66L620.61 188.22L620.00 188.05L619.39 188.22L618.94 188.66L618.78 189.27L618.94 189.89L619.39 190.33L620.00 190.50L620.61 190.33L621.06 189.89ZM623.21 190.20L623.04 189.59L622.60 189.15L622.00 188.99L621.40 189.15L620.96 189.59L620.79 190.20L620.96 190.80L621.40 191.24L622.00 191.40L622.60 191.24L623.04 190.80ZM625.18 190.98L625.03 190.39L624.59 189.95L624.00 189.79L623.41 189.95L622.97 190.39L622.82 190.98L622.97 191.57L623.41 192.00L624.00 192.16L624.59 192.00L625.03 191.57ZM627.16 191.61L627.01 191.03L626.58 190.60L626.00 190.45L625.42 190.60L624.99 191.03L624.84 191.61L624.99 192.19L625.42 192.62L626.00 192.77L626.58 192.62L627.01 192.19ZM629.14 192.11L628.98 191.54L628.57 191.13L628.00 190.97L627.43 191.13L627.02 191.54L626.86 192.11L627.02 192.68L627.43 193.10L628.00 193.25L628.57 193.10L628.98 192.68ZM632.11 192.67L631.96 192.11L631.56 191.70L631.00 191.55L630.44 191.70L630.04 192.11L629.89 192.67L630.04 193.22L630.44 193.63L631.00 193.78L631.56 193.63L631.96 193.22ZM649.16 195.11L649.01 194.53L648.58 194.11L648.00 193.95L647.42 194.11L646.99 194.53L646.84 195.11L646.99 195.69L647.42 196.12L648.00 196.27L648.58 196.12L649.01 195.69ZM651.18 195.74L651.02 195.15L650.59 194.71L650.00 194.55L649.41 194.71L648.98 195.15L648.82 195.74L648.98 196.33L649.41 196.76L650.00 196.92L650.59 196.76L651.02 196.33ZM653.20 196.48L653.04 195.88L652.60 195.44L652.00 195.28L651.40 195.44L650.96 195.88L650.80 196.48L650.96 197.08L651.40 197.52L652.00 197.68L652.60 197.52L653.04 197.08ZM687.26 215.99L687.09 215.36L686.63 214.90L686.00 214.74L685.37 214.90L684.91 215.36L684.74 215.99L684.91 216.62L685.37 217.08L686.00 217.25L686.63 217.08L687.09 216.62Z"/>
<path fill="#000000" d="M87.30 60.65L90.30 60.65L90.30 58.55L87.30 58.55ZM90.30 60.65L159.00 60.57L159.00 58.47L90.30 58.55ZM159.00 60.57L177.00 60.64L177.00 58.54L159.00 58.47ZM176.99 60.65L187.99 60.79L188.01 58.68L177.01 58.53ZM187.98 60.80L198.98 61.04L199.02 58.92L188.02 58.67ZM198.96 61.05L208.96 61.38L209.04 59.25L199.04 58.92ZM208.95 61.39L218.95 61.84L219.05 59.70L209.05 59.24ZM218.94 61.85L229.94 62.51L230.06 60.35L219.06 59.69ZM229.92 62.51L239.92 63.27L240.08 61.10L230.08 60.34ZM239.90 63.28L250.90 64.30L251.10 62.11L240.10 61.10ZM250.88 64.30L260.88 65.40L261.12 63.20L251.12 62.11ZM260.86 65.40L271.86 66.80L272.14 64.59L261.14 63.20ZM271.84 66.80L281.84 68.24L282.16 66.02L272.16 64.58ZM281.82 68.24L291.82 69.85L292.18 67.63L282.18 66.02ZM291.80 69.85L301.80 71.63L302.20 69.40L292.20 67.62ZM301.78 71.63L313.78 73.99L314.22 71.75L302.22 69.39ZM313.76 74.00L324.76 76.38L325.24 74.14L314.24 71.75ZM324.73 76.39L335.73 78.98L336.27 76.73L325.27 74.13ZM335.71 78.99L346.71 81.80L347.29 79.55L336.29 76.73ZM346.69 81.81L357.69 84.84L358.31 82.59L347.31 79.55ZM357.67 84.84L368.67 88.10L369.33 85.84L358.33 82.59ZM368.64 88.10L379.64 91.58L380.36 89.32L369.36 85.84ZM379.62 91.58L390.62 95.28L391.38 93.02L380.38 89.32ZM390.60 95.27L401.60 99.19L402.40 96.94L391.40 93.02ZM401.58 99.19L412.58 103.33L413.42 101.08L402.42 96.94ZM412.56 103.32L423.56 107.68L424.44 105.43L413.44 101.08ZM423.53 107.67L434.53 112.25L435.47 110.01L424.47 105.44ZM434.51 112.25L445.51 117.04L446.49 114.81L435.49 110.02ZM445.49 117.03L456.49 122.05L457.51 119.83L446.51 114.81ZM456.47 122.04L467.47 127.27L468.53 125.06L457.53 119.83ZM467.45 127.27L479.45 133.22L480.55 131.02L468.55 125.07ZM479.43 133.22L490.43 138.90L491.57 136.71L480.57 131.03ZM490.41 138.90L502.41 145.35L503.59 143.17L491.59 136.72ZM502.39 145.34L514.39 152.06L515.61 149.89L503.61 143.18ZM514.38 152.05L525.38 158.43L526.62 156.28L515.62 149.90ZM525.36 158.42L536.36 165.04L537.64 162.91L526.64 156.29ZM536.34 165.03L547.34 171.90L548.66 169.78L537.66 162.92ZM547.32 171.89L558.32 179.02L559.68 176.93L548.68 169.79ZM558.30 179.01L568.30 185.75L569.70 183.67L559.70 176.93ZM568.28 185.74L578.28 192.71L579.72 190.65L569.72 183.68ZM578.26 192.70L588.26 199.94L589.74 197.90L579.74 190.67ZM588.24 199.93L598.24 207.44L599.76 205.43L589.76 197.92ZM598.22 207.43L608.22 215.23L609.78 213.24L599.78 205.44ZM608.21 215.21L618.21 223.31L619.79 221.34L609.79 213.25ZM618.19 223.30L627.19 230.85L628.81 228.91L619.81 221.36ZM627.17 230.83L636.17 238.64L637.83 236.73L628.83 228.92ZM636.15 238.63L645.15 246.71L646.85 244.83L637.85 236.75ZM645.14 246.70L654.14 255.06L655.86 253.20L646.86 244.84ZM654.12 255.04L663.12 263.69L664.88 261.87L655.88 253.22ZM663.11 263.68L672.11 272.62L673.89 270.83L664.89 261.88ZM672.09 272.61L681.09 281.86L682.91 280.09L673.91 270.84ZM681.08 281.85L690.08 291.41L691.92 289.67L682.92 280.11ZM690.06 291.39L699.06 301.27L700.94 299.56L691.94 289.69ZM699.05 301.25L708.05 311.45L709.95 309.77L700.95 299.58ZM708.04 311.44L717.04 321.96L718.96 320.31L709.96 309.79ZM717.03 321.94L726.03 332.79L727.97 331.18L718.97 320.33ZM726.02 332.77L735.02 343.96L736.98 342.37L727.98 331.19ZM735.01 343.94L744.01 355.47L745.99 353.91L736.99 342.39ZM744.00 355.45L752.00 365.98L754.00 364.46L746.00 353.93ZM751.99 365.97L760.99 378.14L763.01 376.64L754.01 364.47ZM760.98 378.13L768.98 389.24L771.02 387.77L763.02 376.66ZM768.97 389.23L776.97 400.63L779.03 399.18L771.03 387.79ZM776.96 400.61L785.66 413.33L787.74 411.92L779.04 399.20ZM785.66 413.33L790.01 419.69L792.09 418.28L787.74 411.92Z"/>
</g>
<g stroke="none">
<g fill="#000"><use href="#g49" x="42.18" y="53.65"/><use href="#g56" x="58.89" y="53.65"/></g>
<g fill="#000"><use href="#g50" x="42.18" y="227.73"/><use href="#g48" x="58.89" y="227.73"/></g>
<g fill="#000"><use href="#g50" x="42.18" y="401.80"/><use href="#g50" x="58.89" y="401.80"/></g>
<g fill="#000"><use href="#g50" x="42.18" y="575.88"/><use href="#g52" x="58.89" y="575.88"/></g>
<g fill="#000"><use href="#g50" x="42.18" y="749.95"/><use href="#g54" x="58.89" y="749.95"/></g>
<g fill="#000"><use href="#g48" x="81.94" y="774.20"/></g>
<g fill="#000"><use href="#g49" x="221.23" y="774.20"/></g>
<g fill="#000"><use href="#g50" x="360.51" y="774.20"/></g>
<g fill="#000"><use href="#g51" x="499.79" y="774.20"/></g>
<g fill="#000"><use href="#g52" x="639.07" y="774.20"/></g>
<g fill="#000"><use href="#g53" x="778.35" y="774.20"/></g>
<g fill="#000"><use href="#g82" x="374.50" y="807.10"/><use href="#g101" x="392.05" y="807.10"/><use href="#g100" x="407.08" y="807.10"/><use href="#g115" x="422.96" y="807.10"/><use href="#g104" x="437.16" y="807.10"/><use href="#g105" x="453.04" y="807.10"/><use href="#g102" x="459.72" y="807.10"/><use href="#g116" x="469.75" y="807.10"/><use href="#g44" x="479.77" y="807.10"/><use href="#g122" x="501.50" y="807.10"/></g>
<g fill="#000"><use href="#g71" transform="translate(22.85 485.60) rotate(-90)"/><use href="#g82" transform="translate(22.85 468.05) rotate(-90)"/><use href="#g66" transform="translate(22.85 450.51) rotate(-90)"/><use href="#g77" transform="translate(22.85 419.60) rotate(-90)"/><use href="#g97" transform="translate(22.85 399.54) rotate(-90)"/><use href="#g103" transform="translate(22.85 383.67) rotate(-90)"/><use href="#g110" transform="translate(22.85 367.79) rotate(-90)"/><use href="#g105" transform="translate(22.85 351.92) rotate(-90)"/><use href="#g116" transform="translate(22.85 345.24) rotate(-90)"/><use href="#g117" transform="translate(22.85 335.21) rotate(-90)"/><use href="#g100" transform="translate(22.85 319.34) rotate(-90)"/><use href="#g101" transform="translate(22.85 303.46) rotate(-90)"/></g>
<g fill="#800080"><use href="#g85" x="174.00" y="228.10"/><use href="#g86" x="192.38" y="228.10"/><use href="#g87" x="207.42" y="228.10"/><use href="#g50" x="227.47" y="228.10"/></g>
<g fill="#553055"><use href="#g85" x="174.00" y="271.68"/><use href="#g86" x="192.38" y="271.68"/><use href="#g77" x="207.42" y="271.68"/><use href="#g50" x="227.47" y="271.68"/></g>
<g fill="#4b0082"><use href="#g85" x="174.00" y="315.26"/><use href="#g86" x="192.38" y="315.26"/><use href="#g87" x="207.42" y="315.26"/><use href="#g49" x="227.47" y="315.26"/></g>
<g fill="#0000ff"><use href="#g85" x="174.00" y="358.84"/></g>
<g fill="#00cd00"><use href="#g66" x="174.00" y="402.42"/></g>
<g fill="#8b0000"><use href="#g86" x="174.00" y="446.00"/></g>
<g fill="#000"><use href="#g87" x="174.00" y="489.58"/><use href="#g104" x="194.05" y="489.58"/><use href="#g105" x="209.93" y="489.58"/><use href="#g116" x="216.61" y="489.58"/><use href="#g101" x="226.64" y="489.58"/></g>
<g fill="#000"><use href="#g71" x="174.00" y="616.80"/><use href="#g82" x="191.55" y="616.80"/><use href="#g66" x="209.09" y="616.80"/><use href="#g83" x="240.00" y="616.80"/><use href="#g112" x="256.71" y="616.80"/><use href="#g101" x="272.59" y="616.80"/><use href="#g99" x="287.63" y="616.80"/><use href="#g116" x="302.67" y="616.80"/><use href="#g114" x="312.69" y="616.80"/><use href="#g117" x="323.55" y="616.80"/><use href="#g109" x="339.43" y="616.80"/><use href="#g58" x="364.49" y="616.80"/></g>
<g fill="#000"><use href="#g61" x="403.90" y="616.80"/><use href="#g45" x="425.62" y="616.80"/><use href="#g49" x="447.35" y="616.80"/></g>
<g fill="#000"><use href="#g71" x="174.00" y="661.75"/><use href="#g97" x="191.55" y="661.75"/><use href="#g108" x="207.42" y="661.75"/><use href="#g97" x="214.10" y="661.75"/><use href="#g99" x="229.98" y="661.75"/><use href="#g116" x="245.02" y="661.75"/><use href="#g105" x="255.04" y="661.75"/><use href="#g99" x="261.73" y="661.75"/><use href="#g82" x="290.13" y="661.75"/><use href="#g101" x="307.68" y="661.75"/><use href="#g100" x="322.72" y="661.75"/><use href="#g100" x="338.59" y="661.75"/><use href="#g101" x="354.47" y="661.75"/><use href="#g110" x="369.51" y="661.75"/><use href="#g105" x="385.38" y="661.75"/><use href="#g110" x="392.07" y="661.75"/><use href="#g103" x="407.94" y="661.75"/><use href="#g58" x="423.81" y="661.75"/><use href="#g69" x="445.54" y="661.75"/><use href="#g40" x="461.41" y="661.75"/><use href="#g66" x="473.11" y="661.75"/><use href="#g45" x="490.65" y="661.75"/><use href="#g86" x="512.38" y="661.75"/><use href="#g41" x="527.42" y="661.75"/><use href="#g61" x="539.11" y="661.75"/><use href="#g48" x="560.84" y="661.75"/><use href="#g46" x="577.55" y="661.75"/><use href="#g48" x="585.90" y="661.75"/><use href="#g53" x="602.61" y="661.75"/></g>
</g>
<g fill="none" stroke="#000" stroke-linejoin="round"><path d="M388.10 622.20 C388.22 620.78 388.50 616.07 388.80 613.70 C389.10 611.33 389.47 609.73 389.90 608.00 C390.33 606.27 390.80 604.50 391.40 603.30 C392.00 602.10 393.15 601.22 393.50 600.80" stroke-width="2.9" stroke-linecap="butt"/><path d="M393.50 600.80 C393.92 600.57 395.22 599.67 396.00 599.40 C396.78 599.13 397.50 599.08 398.20 599.20 C398.90 599.32 399.73 599.67 400.20 600.10 C400.67 600.53 400.98 601.20 401.00 601.80 C401.02 602.40 400.70 603.07 400.30 603.70 C399.90 604.33 399.28 605.10 398.60 605.60 C397.92 606.10 396.98 606.47 396.20 606.70 C395.42 606.93 394.28 606.95 393.90 607.00" stroke-width="2.6" stroke-linecap="round"/><path d="M396.20 606.70 C396.55 606.92 397.75 607.42 398.30 608.00 C398.85 608.58 399.28 609.45 399.50 610.20 C399.72 610.95 399.75 611.70 399.60 612.50 C399.45 613.30 399.12 614.30 398.60 615.00 C398.08 615.70 397.22 616.32 396.50 616.70 C395.78 617.08 395.02 617.30 394.30 617.30 C393.58 617.30 392.80 617.08 392.20 616.70 C391.60 616.32 391.05 615.73 390.70 615.00 C390.35 614.27 390.20 612.75 390.10 612.30" stroke-width="2.6" stroke-linecap="round"/></g>
</svg>
</body></html>
